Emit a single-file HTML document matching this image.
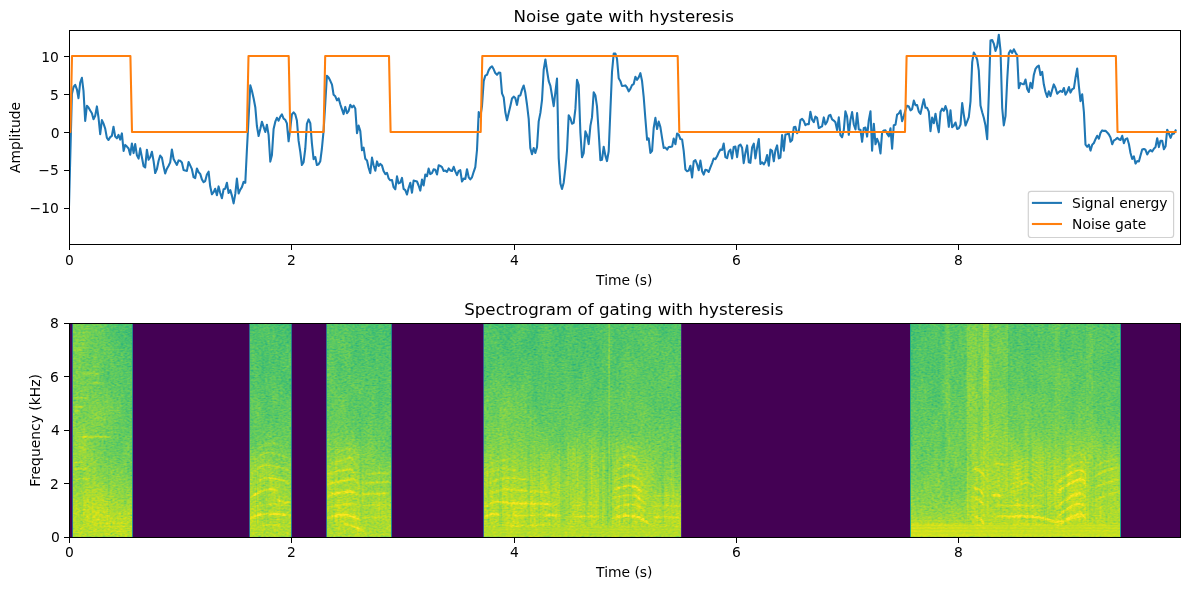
<!DOCTYPE html>
<html lang="en"><head><meta charset="utf-8"><title>Noise gate with hysteresis</title>
<style>html,body{margin:0;padding:0;background:#fff}body{width:1189px;height:590px;overflow:hidden}svg{display:block}</style>
</head><body>
<svg width="1189" height="590" viewBox="0 0 1189 590" font-family='"DejaVu Sans","Liberation Sans",sans-serif' fill="#000">
<defs>
<clipPath id="c1"><rect x="69.5" y="30.5" width="1111.0" height="214.0"/></clipPath>
<clipPath id="c2"><rect x="69.5" y="323.5" width="1111.0" height="214.0"/></clipPath>
<linearGradient id="g1" gradientUnits="userSpaceOnUse" x1="0" y1="323.5" x2="0" y2="537.5"><stop offset="0.000" stop-color="#868686"/><stop offset="0.250" stop-color="#8e8e8e"/><stop offset="0.386" stop-color="#959595"/><stop offset="0.577" stop-color="#9b9b9b"/><stop offset="0.685" stop-color="#a2a2a2"/><stop offset="0.801" stop-color="#acacac"/><stop offset="0.876" stop-color="#b9b9b9"/><stop offset="0.914" stop-color="#c3c3c3"/><stop offset="0.937" stop-color="#cacaca"/><stop offset="0.993" stop-color="#cacaca"/><stop offset="1.000" stop-color="#c3c3c3"/></linearGradient>
<linearGradient id="g2" gradientUnits="userSpaceOnUse" x1="72" y1="0" x2="128" y2="0"><stop offset="0.000" stop-color="#c3c3c3" stop-opacity="0.60"/><stop offset="0.286" stop-color="#c3c3c3" stop-opacity="0.45"/><stop offset="0.643" stop-color="#c3c3c3" stop-opacity="0.22"/><stop offset="1.000" stop-color="#c3c3c3" stop-opacity="0.00"/></linearGradient>
<radialGradient id="g3" gradientUnits="userSpaceOnUse" cx="0" cy="0" r="1" gradientTransform="translate(84 515) scale(50 34)"><stop offset="0" stop-color="#eaeaea" stop-opacity="0.55"/><stop offset="0.5" stop-color="#eaeaea" stop-opacity="0.30"/><stop offset="1" stop-color="#eaeaea" stop-opacity="0"/></radialGradient>
<radialGradient id="g4" gradientUnits="userSpaceOnUse" cx="0" cy="0" r="1" gradientTransform="translate(100 520) scale(60 22)"><stop offset="0" stop-color="#dddddd" stop-opacity="0.35"/><stop offset="0.5" stop-color="#dddddd" stop-opacity="0.19"/><stop offset="1" stop-color="#dddddd" stop-opacity="0"/></radialGradient>
<linearGradient id="g5" gradientUnits="userSpaceOnUse" x1="78.0" y1="0" x2="112.0" y2="0"><stop offset="0" stop-color="#fff" stop-opacity="0.11"/><stop offset="0.18" stop-color="#fff" stop-opacity="0.45"/><stop offset="0.82" stop-color="#fff" stop-opacity="0.45"/><stop offset="1" stop-color="#fff" stop-opacity="0.11"/></linearGradient>
<linearGradient id="g6" gradientUnits="userSpaceOnUse" x1="73.0" y1="0" x2="88.0" y2="0"><stop offset="0" stop-color="#fff" stop-opacity="0.10"/><stop offset="0.18" stop-color="#fff" stop-opacity="0.39"/><stop offset="0.82" stop-color="#fff" stop-opacity="0.39"/><stop offset="1" stop-color="#fff" stop-opacity="0.10"/></linearGradient>
<linearGradient id="g7" gradientUnits="userSpaceOnUse" x1="74.0" y1="0" x2="92.0" y2="0"><stop offset="0" stop-color="#fff" stop-opacity="0.09"/><stop offset="0.18" stop-color="#fff" stop-opacity="0.36"/><stop offset="0.82" stop-color="#fff" stop-opacity="0.36"/><stop offset="1" stop-color="#fff" stop-opacity="0.09"/></linearGradient>
<linearGradient id="g8" gradientUnits="userSpaceOnUse" x1="73.0" y1="0" x2="84.0" y2="0"><stop offset="0" stop-color="#fff" stop-opacity="0.06"/><stop offset="0.18" stop-color="#fff" stop-opacity="0.25"/><stop offset="0.82" stop-color="#fff" stop-opacity="0.25"/><stop offset="1" stop-color="#fff" stop-opacity="0.06"/></linearGradient>
<linearGradient id="g9" gradientUnits="userSpaceOnUse" x1="73.0" y1="0" x2="86.0" y2="0"><stop offset="0" stop-color="#fff" stop-opacity="0.04"/><stop offset="0.18" stop-color="#fff" stop-opacity="0.18"/><stop offset="0.82" stop-color="#fff" stop-opacity="0.18"/><stop offset="1" stop-color="#fff" stop-opacity="0.04"/></linearGradient>
<linearGradient id="g10" gradientUnits="userSpaceOnUse" x1="73.0" y1="0" x2="84.0" y2="0"><stop offset="0" stop-color="#fff" stop-opacity="0.12"/><stop offset="0.18" stop-color="#fff" stop-opacity="0.48"/><stop offset="0.82" stop-color="#fff" stop-opacity="0.48"/><stop offset="1" stop-color="#fff" stop-opacity="0.12"/></linearGradient>
<linearGradient id="g11" gradientUnits="userSpaceOnUse" x1="74.0" y1="0" x2="80.0" y2="0"><stop offset="0" stop-color="#fff" stop-opacity="0.09"/><stop offset="0.18" stop-color="#fff" stop-opacity="0.36"/><stop offset="0.82" stop-color="#fff" stop-opacity="0.36"/><stop offset="1" stop-color="#fff" stop-opacity="0.09"/></linearGradient>
<linearGradient id="g12" gradientUnits="userSpaceOnUse" x1="82.0" y1="0" x2="100.0" y2="0"><stop offset="0" stop-color="#fff" stop-opacity="0.07"/><stop offset="0.18" stop-color="#fff" stop-opacity="0.30"/><stop offset="0.82" stop-color="#fff" stop-opacity="0.30"/><stop offset="1" stop-color="#fff" stop-opacity="0.07"/></linearGradient>
<linearGradient id="g13" gradientUnits="userSpaceOnUse" x1="90.0" y1="0" x2="104.0" y2="0"><stop offset="0" stop-color="#fff" stop-opacity="0.07"/><stop offset="0.18" stop-color="#fff" stop-opacity="0.27"/><stop offset="0.82" stop-color="#fff" stop-opacity="0.27"/><stop offset="1" stop-color="#fff" stop-opacity="0.07"/></linearGradient>
<linearGradient id="g14" gradientUnits="userSpaceOnUse" x1="73.0" y1="0" x2="88.0" y2="0"><stop offset="0" stop-color="#fff" stop-opacity="0.06"/><stop offset="0.18" stop-color="#fff" stop-opacity="0.24"/><stop offset="0.82" stop-color="#fff" stop-opacity="0.24"/><stop offset="1" stop-color="#fff" stop-opacity="0.06"/></linearGradient>
<linearGradient id="g15" gradientUnits="userSpaceOnUse" x1="74.0" y1="0" x2="82.0" y2="0"><stop offset="0" stop-color="#fff" stop-opacity="0.06"/><stop offset="0.18" stop-color="#fff" stop-opacity="0.24"/><stop offset="0.82" stop-color="#fff" stop-opacity="0.24"/><stop offset="1" stop-color="#fff" stop-opacity="0.06"/></linearGradient>
<linearGradient id="g16" gradientUnits="userSpaceOnUse" x1="0" y1="440" x2="0" y2="537.5"><stop offset="0.000" stop-color="#cccccc" stop-opacity="0.00"/><stop offset="0.308" stop-color="#cccccc" stop-opacity="0.22"/><stop offset="0.615" stop-color="#d4d4d4" stop-opacity="0.40"/><stop offset="1.000" stop-color="#d4d4d4" stop-opacity="0.45"/></linearGradient>
<linearGradient id="g17" gradientUnits="userSpaceOnUse" x1="260.5" y1="0" x2="282.0" y2="0"><stop offset="0" stop-color="#fff" stop-opacity="0.11"/><stop offset="0.18" stop-color="#fff" stop-opacity="0.45"/><stop offset="0.82" stop-color="#fff" stop-opacity="0.45"/><stop offset="1" stop-color="#fff" stop-opacity="0.11"/></linearGradient>
<linearGradient id="g18" gradientUnits="userSpaceOnUse" x1="249.7" y1="0" x2="290.7" y2="0"><stop offset="0" stop-color="#fff" stop-opacity="0.20"/><stop offset="0.18" stop-color="#fff" stop-opacity="0.80"/><stop offset="0.82" stop-color="#fff" stop-opacity="0.80"/><stop offset="1" stop-color="#fff" stop-opacity="0.20"/></linearGradient>
<linearGradient id="g19" gradientUnits="userSpaceOnUse" x1="250.3" y1="0" x2="278.2" y2="0"><stop offset="0" stop-color="#fff" stop-opacity="0.16"/><stop offset="0.18" stop-color="#fff" stop-opacity="0.65"/><stop offset="0.82" stop-color="#fff" stop-opacity="0.65"/><stop offset="1" stop-color="#fff" stop-opacity="0.16"/></linearGradient>
<linearGradient id="g20" gradientUnits="userSpaceOnUse" x1="276.4" y1="0" x2="290.7" y2="0"><stop offset="0" stop-color="#fff" stop-opacity="0.15"/><stop offset="0.18" stop-color="#fff" stop-opacity="0.60"/><stop offset="0.82" stop-color="#fff" stop-opacity="0.60"/><stop offset="1" stop-color="#fff" stop-opacity="0.15"/></linearGradient>
<linearGradient id="g21" gradientUnits="userSpaceOnUse" x1="255.9" y1="0" x2="290.7" y2="0"><stop offset="0" stop-color="#fff" stop-opacity="0.11"/><stop offset="0.18" stop-color="#fff" stop-opacity="0.46"/><stop offset="0.82" stop-color="#fff" stop-opacity="0.46"/><stop offset="1" stop-color="#fff" stop-opacity="0.11"/></linearGradient>
<linearGradient id="g22" gradientUnits="userSpaceOnUse" x1="252.1" y1="0" x2="290.0" y2="0"><stop offset="0" stop-color="#fff" stop-opacity="0.09"/><stop offset="0.18" stop-color="#fff" stop-opacity="0.35"/><stop offset="0.82" stop-color="#fff" stop-opacity="0.35"/><stop offset="1" stop-color="#fff" stop-opacity="0.09"/></linearGradient>
<linearGradient id="g23" gradientUnits="userSpaceOnUse" x1="254.0" y1="0" x2="289.6" y2="0"><stop offset="0" stop-color="#fff" stop-opacity="0.06"/><stop offset="0.18" stop-color="#fff" stop-opacity="0.23"/><stop offset="0.82" stop-color="#fff" stop-opacity="0.23"/><stop offset="1" stop-color="#fff" stop-opacity="0.06"/></linearGradient>
<linearGradient id="g24" gradientUnits="userSpaceOnUse" x1="250.8" y1="0" x2="290.4" y2="0"><stop offset="0" stop-color="#fff" stop-opacity="0.07"/><stop offset="0.18" stop-color="#fff" stop-opacity="0.30"/><stop offset="0.82" stop-color="#fff" stop-opacity="0.30"/><stop offset="1" stop-color="#fff" stop-opacity="0.07"/></linearGradient>
<linearGradient id="g25" gradientUnits="userSpaceOnUse" x1="257.7" y1="0" x2="280.1" y2="0"><stop offset="0" stop-color="#fff" stop-opacity="0.05"/><stop offset="0.18" stop-color="#fff" stop-opacity="0.21"/><stop offset="0.82" stop-color="#fff" stop-opacity="0.21"/><stop offset="1" stop-color="#fff" stop-opacity="0.05"/></linearGradient>
<linearGradient id="g26" gradientUnits="userSpaceOnUse" x1="0" y1="438" x2="0" y2="537.5"><stop offset="0.000" stop-color="#cccccc" stop-opacity="0.00"/><stop offset="0.302" stop-color="#cccccc" stop-opacity="0.20"/><stop offset="0.623" stop-color="#d4d4d4" stop-opacity="0.40"/><stop offset="1.000" stop-color="#d4d4d4" stop-opacity="0.45"/></linearGradient>
<linearGradient id="g27" gradientUnits="userSpaceOnUse" x1="326" y1="0" x2="365" y2="0"><stop offset="0.000" stop-color="#b2b2b2" stop-opacity="0.22"/><stop offset="0.615" stop-color="#b2b2b2" stop-opacity="0.12"/><stop offset="1.000" stop-color="#b2b2b2" stop-opacity="0.00"/></linearGradient>
<linearGradient id="g28" gradientUnits="userSpaceOnUse" x1="326.8" y1="0" x2="360.3" y2="0"><stop offset="0" stop-color="#fff" stop-opacity="0.20"/><stop offset="0.18" stop-color="#fff" stop-opacity="0.80"/><stop offset="0.82" stop-color="#fff" stop-opacity="0.80"/><stop offset="1" stop-color="#fff" stop-opacity="0.20"/></linearGradient>
<linearGradient id="g29" gradientUnits="userSpaceOnUse" x1="360.3" y1="0" x2="390.2" y2="0"><stop offset="0" stop-color="#fff" stop-opacity="0.07"/><stop offset="0.18" stop-color="#fff" stop-opacity="0.30"/><stop offset="0.82" stop-color="#fff" stop-opacity="0.30"/><stop offset="1" stop-color="#fff" stop-opacity="0.07"/></linearGradient>
<linearGradient id="g30" gradientUnits="userSpaceOnUse" x1="326.8" y1="0" x2="356.6" y2="0"><stop offset="0" stop-color="#fff" stop-opacity="0.10"/><stop offset="0.18" stop-color="#fff" stop-opacity="0.40"/><stop offset="0.82" stop-color="#fff" stop-opacity="0.40"/><stop offset="1" stop-color="#fff" stop-opacity="0.10"/></linearGradient>
<linearGradient id="g31" gradientUnits="userSpaceOnUse" x1="326.8" y1="0" x2="357.2" y2="0"><stop offset="0" stop-color="#fff" stop-opacity="0.20"/><stop offset="0.18" stop-color="#fff" stop-opacity="0.80"/><stop offset="0.82" stop-color="#fff" stop-opacity="0.80"/><stop offset="1" stop-color="#fff" stop-opacity="0.20"/></linearGradient>
<linearGradient id="g32" gradientUnits="userSpaceOnUse" x1="360.3" y1="0" x2="390.2" y2="0"><stop offset="0" stop-color="#fff" stop-opacity="0.14"/><stop offset="0.18" stop-color="#fff" stop-opacity="0.55"/><stop offset="0.82" stop-color="#fff" stop-opacity="0.55"/><stop offset="1" stop-color="#fff" stop-opacity="0.14"/></linearGradient>
<linearGradient id="g33" gradientUnits="userSpaceOnUse" x1="326.8" y1="0" x2="359.4" y2="0"><stop offset="0" stop-color="#fff" stop-opacity="0.15"/><stop offset="0.18" stop-color="#fff" stop-opacity="0.61"/><stop offset="0.82" stop-color="#fff" stop-opacity="0.61"/><stop offset="1" stop-color="#fff" stop-opacity="0.15"/></linearGradient>
<linearGradient id="g34" gradientUnits="userSpaceOnUse" x1="326.8" y1="0" x2="357.9" y2="0"><stop offset="0" stop-color="#fff" stop-opacity="0.11"/><stop offset="0.18" stop-color="#fff" stop-opacity="0.46"/><stop offset="0.82" stop-color="#fff" stop-opacity="0.46"/><stop offset="1" stop-color="#fff" stop-opacity="0.11"/></linearGradient>
<linearGradient id="g35" gradientUnits="userSpaceOnUse" x1="362.2" y1="0" x2="390.2" y2="0"><stop offset="0" stop-color="#fff" stop-opacity="0.12"/><stop offset="0.18" stop-color="#fff" stop-opacity="0.47"/><stop offset="0.82" stop-color="#fff" stop-opacity="0.47"/><stop offset="1" stop-color="#fff" stop-opacity="0.12"/></linearGradient>
<linearGradient id="g36" gradientUnits="userSpaceOnUse" x1="329.2" y1="0" x2="357.0" y2="0"><stop offset="0" stop-color="#fff" stop-opacity="0.08"/><stop offset="0.18" stop-color="#fff" stop-opacity="0.32"/><stop offset="0.82" stop-color="#fff" stop-opacity="0.32"/><stop offset="1" stop-color="#fff" stop-opacity="0.08"/></linearGradient>
<linearGradient id="g37" gradientUnits="userSpaceOnUse" x1="365.9" y1="0" x2="390.2" y2="0"><stop offset="0" stop-color="#fff" stop-opacity="0.08"/><stop offset="0.18" stop-color="#fff" stop-opacity="0.33"/><stop offset="0.82" stop-color="#fff" stop-opacity="0.33"/><stop offset="1" stop-color="#fff" stop-opacity="0.08"/></linearGradient>
<linearGradient id="g38" gradientUnits="userSpaceOnUse" x1="361.3" y1="0" x2="390.2" y2="0"><stop offset="0" stop-color="#fff" stop-opacity="0.07"/><stop offset="0.18" stop-color="#fff" stop-opacity="0.30"/><stop offset="0.82" stop-color="#fff" stop-opacity="0.30"/><stop offset="1" stop-color="#fff" stop-opacity="0.07"/></linearGradient>
<linearGradient id="g39" gradientUnits="userSpaceOnUse" x1="332.9" y1="0" x2="356.0" y2="0"><stop offset="0" stop-color="#fff" stop-opacity="0.05"/><stop offset="0.18" stop-color="#fff" stop-opacity="0.18"/><stop offset="0.82" stop-color="#fff" stop-opacity="0.18"/><stop offset="1" stop-color="#fff" stop-opacity="0.05"/></linearGradient>
<linearGradient id="g40" gradientUnits="userSpaceOnUse" x1="343.5" y1="0" x2="364.1" y2="0"><stop offset="0" stop-color="#fff" stop-opacity="0.14"/><stop offset="0.18" stop-color="#fff" stop-opacity="0.55"/><stop offset="0.82" stop-color="#fff" stop-opacity="0.55"/><stop offset="1" stop-color="#fff" stop-opacity="0.14"/></linearGradient>
<linearGradient id="g41" gradientUnits="userSpaceOnUse" x1="0" y1="440" x2="0" y2="537.5"><stop offset="0.000" stop-color="#cccccc" stop-opacity="0.00"/><stop offset="0.308" stop-color="#cccccc" stop-opacity="0.20"/><stop offset="0.615" stop-color="#d4d4d4" stop-opacity="0.38"/><stop offset="1.000" stop-color="#d4d4d4" stop-opacity="0.42"/></linearGradient>
<radialGradient id="g42" gradientUnits="userSpaceOnUse" cx="0" cy="0" r="1" gradientTransform="translate(506 425) scale(34 70)"><stop offset="0" stop-color="#c3c3c3" stop-opacity="0.42"/><stop offset="0.5" stop-color="#c3c3c3" stop-opacity="0.23"/><stop offset="1" stop-color="#c3c3c3" stop-opacity="0"/></radialGradient>
<radialGradient id="g43" gradientUnits="userSpaceOnUse" cx="0" cy="0" r="1" gradientTransform="translate(500 500) scale(30 40)"><stop offset="0" stop-color="#e1e1e1" stop-opacity="0.30"/><stop offset="0.5" stop-color="#e1e1e1" stop-opacity="0.17"/><stop offset="1" stop-color="#e1e1e1" stop-opacity="0"/></radialGradient>
<linearGradient id="g44" gradientUnits="userSpaceOnUse" x1="0" y1="524.5" x2="0" y2="537.5"><stop offset="0.000" stop-color="#e1e1e1" stop-opacity="0.00"/><stop offset="0.192" stop-color="#e1e1e1" stop-opacity="0.60"/><stop offset="0.908" stop-color="#e1e1e1" stop-opacity="0.60"/><stop offset="1.000" stop-color="#d4d4d4" stop-opacity="0.40"/></linearGradient>
<linearGradient id="g45" gradientUnits="userSpaceOnUse" x1="0" y1="430" x2="0" y2="531"><stop offset="0.000" stop-color="#7f7f7f" stop-opacity="0.00"/><stop offset="0.396" stop-color="#7f7f7f" stop-opacity="0.35"/><stop offset="0.891" stop-color="#7f7f7f" stop-opacity="0.35"/><stop offset="1.000" stop-color="#7f7f7f" stop-opacity="0.00"/></linearGradient>
<linearGradient id="g46" gradientUnits="userSpaceOnUse" x1="0" y1="430" x2="0" y2="531"><stop offset="0.000" stop-color="#7f7f7f" stop-opacity="0.00"/><stop offset="0.396" stop-color="#7f7f7f" stop-opacity="0.25"/><stop offset="0.891" stop-color="#7f7f7f" stop-opacity="0.25"/><stop offset="1.000" stop-color="#7f7f7f" stop-opacity="0.00"/></linearGradient>
<linearGradient id="g47" gradientUnits="userSpaceOnUse" x1="0" y1="430" x2="0" y2="531"><stop offset="0.000" stop-color="#7f7f7f" stop-opacity="0.00"/><stop offset="0.396" stop-color="#7f7f7f" stop-opacity="0.35"/><stop offset="0.891" stop-color="#7f7f7f" stop-opacity="0.35"/><stop offset="1.000" stop-color="#7f7f7f" stop-opacity="0.00"/></linearGradient>
<linearGradient id="g48" gradientUnits="userSpaceOnUse" x1="0" y1="430" x2="0" y2="531"><stop offset="0.000" stop-color="#7f7f7f" stop-opacity="0.00"/><stop offset="0.396" stop-color="#7f7f7f" stop-opacity="0.15"/><stop offset="0.891" stop-color="#7f7f7f" stop-opacity="0.15"/><stop offset="1.000" stop-color="#7f7f7f" stop-opacity="0.00"/></linearGradient>
<linearGradient id="g49" gradientUnits="userSpaceOnUse" x1="609" y1="0" x2="681" y2="0"><stop offset="0.000" stop-color="#a6a6a6" stop-opacity="0.28"/><stop offset="1.000" stop-color="#a6a6a6" stop-opacity="0.18"/></linearGradient>
<radialGradient id="g50" gradientUnits="userSpaceOnUse" cx="0" cy="0" r="1" gradientTransform="translate(632 490) scale(26 50)"><stop offset="0" stop-color="#e1e1e1" stop-opacity="0.35"/><stop offset="0.5" stop-color="#e1e1e1" stop-opacity="0.19"/><stop offset="1" stop-color="#e1e1e1" stop-opacity="0"/></radialGradient>
<linearGradient id="g51" gradientUnits="userSpaceOnUse" x1="484.0" y1="0" x2="503.0" y2="0"><stop offset="0" stop-color="#fff" stop-opacity="0.20"/><stop offset="0.18" stop-color="#fff" stop-opacity="0.80"/><stop offset="0.82" stop-color="#fff" stop-opacity="0.80"/><stop offset="1" stop-color="#fff" stop-opacity="0.20"/></linearGradient>
<linearGradient id="g52" gradientUnits="userSpaceOnUse" x1="503.0" y1="0" x2="544.0" y2="0"><stop offset="0" stop-color="#fff" stop-opacity="0.07"/><stop offset="0.18" stop-color="#fff" stop-opacity="0.30"/><stop offset="0.82" stop-color="#fff" stop-opacity="0.30"/><stop offset="1" stop-color="#fff" stop-opacity="0.07"/></linearGradient>
<linearGradient id="g53" gradientUnits="userSpaceOnUse" x1="544.0" y1="0" x2="561.2" y2="0"><stop offset="0" stop-color="#fff" stop-opacity="0.19"/><stop offset="0.18" stop-color="#fff" stop-opacity="0.75"/><stop offset="0.82" stop-color="#fff" stop-opacity="0.75"/><stop offset="1" stop-color="#fff" stop-opacity="0.19"/></linearGradient>
<linearGradient id="g54" gradientUnits="userSpaceOnUse" x1="484.0" y1="0" x2="559.0" y2="0"><stop offset="0" stop-color="#fff" stop-opacity="0.17"/><stop offset="0.18" stop-color="#fff" stop-opacity="0.70"/><stop offset="0.82" stop-color="#fff" stop-opacity="0.70"/><stop offset="1" stop-color="#fff" stop-opacity="0.17"/></linearGradient>
<linearGradient id="g55" gradientUnits="userSpaceOnUse" x1="484.0" y1="0" x2="549.6" y2="0"><stop offset="0" stop-color="#fff" stop-opacity="0.11"/><stop offset="0.18" stop-color="#fff" stop-opacity="0.45"/><stop offset="0.82" stop-color="#fff" stop-opacity="0.45"/><stop offset="1" stop-color="#fff" stop-opacity="0.11"/></linearGradient>
<linearGradient id="g56" gradientUnits="userSpaceOnUse" x1="485.8" y1="0" x2="531.0" y2="0"><stop offset="0" stop-color="#fff" stop-opacity="0.09"/><stop offset="0.18" stop-color="#fff" stop-opacity="0.37"/><stop offset="0.82" stop-color="#fff" stop-opacity="0.37"/><stop offset="1" stop-color="#fff" stop-opacity="0.09"/></linearGradient>
<linearGradient id="g57" gradientUnits="userSpaceOnUse" x1="485.8" y1="0" x2="514.2" y2="0"><stop offset="0" stop-color="#fff" stop-opacity="0.07"/><stop offset="0.18" stop-color="#fff" stop-opacity="0.28"/><stop offset="0.82" stop-color="#fff" stop-opacity="0.28"/><stop offset="1" stop-color="#fff" stop-opacity="0.07"/></linearGradient>
<linearGradient id="g58" gradientUnits="userSpaceOnUse" x1="487.7" y1="0" x2="512.3" y2="0"><stop offset="0" stop-color="#fff" stop-opacity="0.05"/><stop offset="0.18" stop-color="#fff" stop-opacity="0.21"/><stop offset="0.82" stop-color="#fff" stop-opacity="0.21"/><stop offset="1" stop-color="#fff" stop-opacity="0.05"/></linearGradient>
<linearGradient id="g59" gradientUnits="userSpaceOnUse" x1="504.9" y1="0" x2="559.0" y2="0"><stop offset="0" stop-color="#fff" stop-opacity="0.09"/><stop offset="0.18" stop-color="#fff" stop-opacity="0.35"/><stop offset="0.82" stop-color="#fff" stop-opacity="0.35"/><stop offset="1" stop-color="#fff" stop-opacity="0.09"/></linearGradient>
<linearGradient id="g60" gradientUnits="userSpaceOnUse" x1="571.1" y1="0" x2="601.9" y2="0"><stop offset="0" stop-color="#fff" stop-opacity="0.12"/><stop offset="0.18" stop-color="#fff" stop-opacity="0.50"/><stop offset="0.82" stop-color="#fff" stop-opacity="0.50"/><stop offset="1" stop-color="#fff" stop-opacity="0.12"/></linearGradient>
<linearGradient id="g61" gradientUnits="userSpaceOnUse" x1="572.0" y1="0" x2="600.0" y2="0"><stop offset="0" stop-color="#fff" stop-opacity="0.06"/><stop offset="0.18" stop-color="#fff" stop-opacity="0.25"/><stop offset="0.82" stop-color="#fff" stop-opacity="0.25"/><stop offset="1" stop-color="#fff" stop-opacity="0.06"/></linearGradient>
<linearGradient id="g62" gradientUnits="userSpaceOnUse" x1="612.7" y1="0" x2="650.0" y2="0"><stop offset="0" stop-color="#fff" stop-opacity="0.21"/><stop offset="0.18" stop-color="#fff" stop-opacity="0.85"/><stop offset="0.82" stop-color="#fff" stop-opacity="0.85"/><stop offset="1" stop-color="#fff" stop-opacity="0.21"/></linearGradient>
<linearGradient id="g63" gradientUnits="userSpaceOnUse" x1="613.6" y1="0" x2="647.0" y2="0"><stop offset="0" stop-color="#fff" stop-opacity="0.12"/><stop offset="0.18" stop-color="#fff" stop-opacity="0.50"/><stop offset="0.82" stop-color="#fff" stop-opacity="0.50"/><stop offset="1" stop-color="#fff" stop-opacity="0.12"/></linearGradient>
<linearGradient id="g64" gradientUnits="userSpaceOnUse" x1="613.6" y1="0" x2="646.1" y2="0"><stop offset="0" stop-color="#fff" stop-opacity="0.14"/><stop offset="0.18" stop-color="#fff" stop-opacity="0.55"/><stop offset="0.82" stop-color="#fff" stop-opacity="0.55"/><stop offset="1" stop-color="#fff" stop-opacity="0.14"/></linearGradient>
<linearGradient id="g65" gradientUnits="userSpaceOnUse" x1="613.6" y1="0" x2="643.3" y2="0"><stop offset="0" stop-color="#fff" stop-opacity="0.19"/><stop offset="0.18" stop-color="#fff" stop-opacity="0.75"/><stop offset="0.82" stop-color="#fff" stop-opacity="0.75"/><stop offset="1" stop-color="#fff" stop-opacity="0.19"/></linearGradient>
<linearGradient id="g66" gradientUnits="userSpaceOnUse" x1="614.6" y1="0" x2="643.3" y2="0"><stop offset="0" stop-color="#fff" stop-opacity="0.12"/><stop offset="0.18" stop-color="#fff" stop-opacity="0.50"/><stop offset="0.82" stop-color="#fff" stop-opacity="0.50"/><stop offset="1" stop-color="#fff" stop-opacity="0.12"/></linearGradient>
<linearGradient id="g67" gradientUnits="userSpaceOnUse" x1="615.5" y1="0" x2="641.4" y2="0"><stop offset="0" stop-color="#fff" stop-opacity="0.10"/><stop offset="0.18" stop-color="#fff" stop-opacity="0.39"/><stop offset="0.82" stop-color="#fff" stop-opacity="0.39"/><stop offset="1" stop-color="#fff" stop-opacity="0.10"/></linearGradient>
<linearGradient id="g68" gradientUnits="userSpaceOnUse" x1="616.4" y1="0" x2="639.6" y2="0"><stop offset="0" stop-color="#fff" stop-opacity="0.08"/><stop offset="0.18" stop-color="#fff" stop-opacity="0.31"/><stop offset="0.82" stop-color="#fff" stop-opacity="0.31"/><stop offset="1" stop-color="#fff" stop-opacity="0.08"/></linearGradient>
<linearGradient id="g69" gradientUnits="userSpaceOnUse" x1="618.3" y1="0" x2="635.8" y2="0"><stop offset="0" stop-color="#fff" stop-opacity="0.05"/><stop offset="0.18" stop-color="#fff" stop-opacity="0.21"/><stop offset="0.82" stop-color="#fff" stop-opacity="0.21"/><stop offset="1" stop-color="#fff" stop-opacity="0.05"/></linearGradient>
<linearGradient id="g70" gradientUnits="userSpaceOnUse" x1="652.2" y1="0" x2="680.2" y2="0"><stop offset="0" stop-color="#fff" stop-opacity="0.10"/><stop offset="0.18" stop-color="#fff" stop-opacity="0.40"/><stop offset="0.82" stop-color="#fff" stop-opacity="0.40"/><stop offset="1" stop-color="#fff" stop-opacity="0.10"/></linearGradient>
<linearGradient id="g71" gradientUnits="userSpaceOnUse" x1="652.2" y1="0" x2="680.2" y2="0"><stop offset="0" stop-color="#fff" stop-opacity="0.07"/><stop offset="0.18" stop-color="#fff" stop-opacity="0.30"/><stop offset="0.82" stop-color="#fff" stop-opacity="0.30"/><stop offset="1" stop-color="#fff" stop-opacity="0.07"/></linearGradient>
<linearGradient id="g72" gradientUnits="userSpaceOnUse" x1="652.2" y1="0" x2="680.2" y2="0"><stop offset="0" stop-color="#fff" stop-opacity="0.07"/><stop offset="0.18" stop-color="#fff" stop-opacity="0.30"/><stop offset="0.82" stop-color="#fff" stop-opacity="0.30"/><stop offset="1" stop-color="#fff" stop-opacity="0.07"/></linearGradient>
<linearGradient id="g73" gradientUnits="userSpaceOnUse" x1="0" y1="323.5" x2="0" y2="537.5"><stop offset="0.000" stop-color="#aaaaaa" stop-opacity="0.25"/><stop offset="1.000" stop-color="#aaaaaa" stop-opacity="0.25"/></linearGradient>
<linearGradient id="g74" gradientUnits="userSpaceOnUse" x1="0" y1="323.5" x2="0" y2="537.5"><stop offset="0.000" stop-color="#c3c3c3" stop-opacity="0.35"/><stop offset="1.000" stop-color="#c3c3c3" stop-opacity="0.50"/></linearGradient>
<linearGradient id="g75" gradientUnits="userSpaceOnUse" x1="0" y1="323.5" x2="0" y2="537.5"><stop offset="0.000" stop-color="#cccccc" stop-opacity="0.25"/><stop offset="1.000" stop-color="#cccccc" stop-opacity="0.35"/></linearGradient>
<linearGradient id="g76" gradientUnits="userSpaceOnUse" x1="0" y1="323.5" x2="0" y2="537.5"><stop offset="0.000" stop-color="#dddddd" stop-opacity="0.35"/><stop offset="1.000" stop-color="#dddddd" stop-opacity="0.55"/></linearGradient>
<linearGradient id="g77" gradientUnits="userSpaceOnUse" x1="0" y1="323.5" x2="0" y2="537.5"><stop offset="0.000" stop-color="#bbbbbb" stop-opacity="0.30"/><stop offset="1.000" stop-color="#bbbbbb" stop-opacity="0.40"/></linearGradient>
<linearGradient id="g78" gradientUnits="userSpaceOnUse" x1="0" y1="323.5" x2="0" y2="537.5"><stop offset="0.000" stop-color="#bbbbbb" stop-opacity="0.20"/><stop offset="1.000" stop-color="#bbbbbb" stop-opacity="0.30"/></linearGradient>
<linearGradient id="g79" gradientUnits="userSpaceOnUse" x1="0" y1="323.5" x2="0" y2="537.5"><stop offset="0.000" stop-color="#bbbbbb" stop-opacity="0.22"/><stop offset="1.000" stop-color="#bbbbbb" stop-opacity="0.30"/></linearGradient>
<linearGradient id="g80" gradientUnits="userSpaceOnUse" x1="1093" y1="0" x2="1121" y2="0"><stop offset="0.000" stop-color="#888888" stop-opacity="0.00"/><stop offset="0.250" stop-color="#888888" stop-opacity="0.30"/><stop offset="1.000" stop-color="#888888" stop-opacity="0.35"/></linearGradient>
<linearGradient id="g81" gradientUnits="userSpaceOnUse" x1="0" y1="425" x2="0" y2="537.5"><stop offset="0.000" stop-color="#d4d4d4" stop-opacity="0.00"/><stop offset="0.311" stop-color="#d4d4d4" stop-opacity="0.25"/><stop offset="0.667" stop-color="#dddddd" stop-opacity="0.42"/><stop offset="1.000" stop-color="#dddddd" stop-opacity="0.45"/></linearGradient>
<radialGradient id="g82" gradientUnits="userSpaceOnUse" cx="0" cy="0" r="1" gradientTransform="translate(1072 490) scale(30 45)"><stop offset="0" stop-color="#eaeaea" stop-opacity="0.18"/><stop offset="0.5" stop-color="#eaeaea" stop-opacity="0.10"/><stop offset="1" stop-color="#eaeaea" stop-opacity="0"/></radialGradient>
<linearGradient id="g83" gradientUnits="userSpaceOnUse" x1="0" y1="522.5" x2="0" y2="537.5"><stop offset="0.000" stop-color="#e5e5e5" stop-opacity="0.00"/><stop offset="0.167" stop-color="#e5e5e5" stop-opacity="0.80"/><stop offset="0.920" stop-color="#e5e5e5" stop-opacity="0.80"/><stop offset="1.000" stop-color="#d4d4d4" stop-opacity="0.60"/></linearGradient>
<linearGradient id="g84" gradientUnits="userSpaceOnUse" x1="973.1" y1="0" x2="984.3" y2="0"><stop offset="0" stop-color="#fff" stop-opacity="0.12"/><stop offset="0.18" stop-color="#fff" stop-opacity="0.49"/><stop offset="0.82" stop-color="#fff" stop-opacity="0.49"/><stop offset="1" stop-color="#fff" stop-opacity="0.12"/></linearGradient>
<linearGradient id="g85" gradientUnits="userSpaceOnUse" x1="973.1" y1="0" x2="984.3" y2="0"><stop offset="0" stop-color="#fff" stop-opacity="0.15"/><stop offset="0.18" stop-color="#fff" stop-opacity="0.60"/><stop offset="0.82" stop-color="#fff" stop-opacity="0.60"/><stop offset="1" stop-color="#fff" stop-opacity="0.15"/></linearGradient>
<linearGradient id="g86" gradientUnits="userSpaceOnUse" x1="973.1" y1="0" x2="984.3" y2="0"><stop offset="0" stop-color="#fff" stop-opacity="0.15"/><stop offset="0.18" stop-color="#fff" stop-opacity="0.60"/><stop offset="0.82" stop-color="#fff" stop-opacity="0.60"/><stop offset="1" stop-color="#fff" stop-opacity="0.15"/></linearGradient>
<linearGradient id="g87" gradientUnits="userSpaceOnUse" x1="973.1" y1="0" x2="984.3" y2="0"><stop offset="0" stop-color="#fff" stop-opacity="0.15"/><stop offset="0.18" stop-color="#fff" stop-opacity="0.60"/><stop offset="0.82" stop-color="#fff" stop-opacity="0.60"/><stop offset="1" stop-color="#fff" stop-opacity="0.15"/></linearGradient>
<linearGradient id="g88" gradientUnits="userSpaceOnUse" x1="973.1" y1="0" x2="984.9" y2="0"><stop offset="0" stop-color="#fff" stop-opacity="0.11"/><stop offset="0.18" stop-color="#fff" stop-opacity="0.45"/><stop offset="0.82" stop-color="#fff" stop-opacity="0.45"/><stop offset="1" stop-color="#fff" stop-opacity="0.11"/></linearGradient>
<linearGradient id="g89" gradientUnits="userSpaceOnUse" x1="992.9" y1="0" x2="1086.6" y2="0"><stop offset="0" stop-color="#fff" stop-opacity="0.21"/><stop offset="0.18" stop-color="#fff" stop-opacity="0.85"/><stop offset="0.82" stop-color="#fff" stop-opacity="0.85"/><stop offset="1" stop-color="#fff" stop-opacity="0.21"/></linearGradient>
<linearGradient id="g90" gradientUnits="userSpaceOnUse" x1="992.4" y1="0" x2="1002.2" y2="0"><stop offset="0" stop-color="#fff" stop-opacity="0.21"/><stop offset="0.18" stop-color="#fff" stop-opacity="0.85"/><stop offset="0.82" stop-color="#fff" stop-opacity="0.85"/><stop offset="1" stop-color="#fff" stop-opacity="0.21"/></linearGradient>
<linearGradient id="g91" gradientUnits="userSpaceOnUse" x1="992.4" y1="0" x2="1004.9" y2="0"><stop offset="0" stop-color="#fff" stop-opacity="0.11"/><stop offset="0.18" stop-color="#fff" stop-opacity="0.44"/><stop offset="0.82" stop-color="#fff" stop-opacity="0.44"/><stop offset="1" stop-color="#fff" stop-opacity="0.11"/></linearGradient>
<linearGradient id="g92" gradientUnits="userSpaceOnUse" x1="1004.5" y1="0" x2="1041.8" y2="0"><stop offset="0" stop-color="#fff" stop-opacity="0.12"/><stop offset="0.18" stop-color="#fff" stop-opacity="0.50"/><stop offset="0.82" stop-color="#fff" stop-opacity="0.50"/><stop offset="1" stop-color="#fff" stop-opacity="0.12"/></linearGradient>
<linearGradient id="g93" gradientUnits="userSpaceOnUse" x1="993.3" y1="0" x2="1004.5" y2="0"><stop offset="0" stop-color="#fff" stop-opacity="0.09"/><stop offset="0.18" stop-color="#fff" stop-opacity="0.35"/><stop offset="0.82" stop-color="#fff" stop-opacity="0.35"/><stop offset="1" stop-color="#fff" stop-opacity="0.09"/></linearGradient>
<linearGradient id="g94" gradientUnits="userSpaceOnUse" x1="1011.9" y1="0" x2="1049.3" y2="0"><stop offset="0" stop-color="#fff" stop-opacity="0.09"/><stop offset="0.18" stop-color="#fff" stop-opacity="0.35"/><stop offset="0.82" stop-color="#fff" stop-opacity="0.35"/><stop offset="1" stop-color="#fff" stop-opacity="0.09"/></linearGradient>
<linearGradient id="g95" gradientUnits="userSpaceOnUse" x1="1006.3" y1="0" x2="1044.6" y2="0"><stop offset="0" stop-color="#fff" stop-opacity="0.06"/><stop offset="0.18" stop-color="#fff" stop-opacity="0.25"/><stop offset="0.82" stop-color="#fff" stop-opacity="0.25"/><stop offset="1" stop-color="#fff" stop-opacity="0.06"/></linearGradient>
<linearGradient id="g96" gradientUnits="userSpaceOnUse" x1="1006.3" y1="0" x2="1044.6" y2="0"><stop offset="0" stop-color="#fff" stop-opacity="0.07"/><stop offset="0.18" stop-color="#fff" stop-opacity="0.26"/><stop offset="0.82" stop-color="#fff" stop-opacity="0.26"/><stop offset="1" stop-color="#fff" stop-opacity="0.07"/></linearGradient>
<linearGradient id="g97" gradientUnits="userSpaceOnUse" x1="1006.3" y1="0" x2="1044.6" y2="0"><stop offset="0" stop-color="#fff" stop-opacity="0.07"/><stop offset="0.18" stop-color="#fff" stop-opacity="0.28"/><stop offset="0.82" stop-color="#fff" stop-opacity="0.28"/><stop offset="1" stop-color="#fff" stop-opacity="0.07"/></linearGradient>
<linearGradient id="g98" gradientUnits="userSpaceOnUse" x1="1006.3" y1="0" x2="1044.6" y2="0"><stop offset="0" stop-color="#fff" stop-opacity="0.07"/><stop offset="0.18" stop-color="#fff" stop-opacity="0.29"/><stop offset="0.82" stop-color="#fff" stop-opacity="0.29"/><stop offset="1" stop-color="#fff" stop-opacity="0.07"/></linearGradient>
<linearGradient id="g99" gradientUnits="userSpaceOnUse" x1="1006.3" y1="0" x2="1044.6" y2="0"><stop offset="0" stop-color="#fff" stop-opacity="0.08"/><stop offset="0.18" stop-color="#fff" stop-opacity="0.31"/><stop offset="0.82" stop-color="#fff" stop-opacity="0.31"/><stop offset="1" stop-color="#fff" stop-opacity="0.08"/></linearGradient>
<linearGradient id="g100" gradientUnits="userSpaceOnUse" x1="1006.3" y1="0" x2="1044.6" y2="0"><stop offset="0" stop-color="#fff" stop-opacity="0.08"/><stop offset="0.18" stop-color="#fff" stop-opacity="0.32"/><stop offset="0.82" stop-color="#fff" stop-opacity="0.32"/><stop offset="1" stop-color="#fff" stop-opacity="0.08"/></linearGradient>
<linearGradient id="g101" gradientUnits="userSpaceOnUse" x1="1006.3" y1="0" x2="1044.6" y2="0"><stop offset="0" stop-color="#fff" stop-opacity="0.09"/><stop offset="0.18" stop-color="#fff" stop-opacity="0.34"/><stop offset="0.82" stop-color="#fff" stop-opacity="0.34"/><stop offset="1" stop-color="#fff" stop-opacity="0.09"/></linearGradient>
<linearGradient id="g102" gradientUnits="userSpaceOnUse" x1="1006.3" y1="0" x2="1044.6" y2="0"><stop offset="0" stop-color="#fff" stop-opacity="0.09"/><stop offset="0.18" stop-color="#fff" stop-opacity="0.34"/><stop offset="0.82" stop-color="#fff" stop-opacity="0.34"/><stop offset="1" stop-color="#fff" stop-opacity="0.09"/></linearGradient>
<linearGradient id="g103" gradientUnits="userSpaceOnUse" x1="1019.4" y1="0" x2="1033.4" y2="0"><stop offset="0" stop-color="#fff" stop-opacity="0.12"/><stop offset="0.18" stop-color="#fff" stop-opacity="0.48"/><stop offset="0.82" stop-color="#fff" stop-opacity="0.48"/><stop offset="1" stop-color="#fff" stop-opacity="0.12"/></linearGradient>
<linearGradient id="g104" gradientUnits="userSpaceOnUse" x1="1028.7" y1="0" x2="1044.6" y2="0"><stop offset="0" stop-color="#fff" stop-opacity="0.09"/><stop offset="0.18" stop-color="#fff" stop-opacity="0.35"/><stop offset="0.82" stop-color="#fff" stop-opacity="0.35"/><stop offset="1" stop-color="#fff" stop-opacity="0.09"/></linearGradient>
<linearGradient id="g105" gradientUnits="userSpaceOnUse" x1="1055.8" y1="0" x2="1087.7" y2="0"><stop offset="0" stop-color="#fff" stop-opacity="0.15"/><stop offset="0.18" stop-color="#fff" stop-opacity="0.61"/><stop offset="0.82" stop-color="#fff" stop-opacity="0.61"/><stop offset="1" stop-color="#fff" stop-opacity="0.15"/></linearGradient>
<linearGradient id="g106" gradientUnits="userSpaceOnUse" x1="1055.8" y1="0" x2="1087.7" y2="0"><stop offset="0" stop-color="#fff" stop-opacity="0.19"/><stop offset="0.18" stop-color="#fff" stop-opacity="0.78"/><stop offset="0.82" stop-color="#fff" stop-opacity="0.78"/><stop offset="1" stop-color="#fff" stop-opacity="0.19"/></linearGradient>
<linearGradient id="g107" gradientUnits="userSpaceOnUse" x1="1055.8" y1="0" x2="1087.7" y2="0"><stop offset="0" stop-color="#fff" stop-opacity="0.17"/><stop offset="0.18" stop-color="#fff" stop-opacity="0.70"/><stop offset="0.82" stop-color="#fff" stop-opacity="0.70"/><stop offset="1" stop-color="#fff" stop-opacity="0.17"/></linearGradient>
<linearGradient id="g108" gradientUnits="userSpaceOnUse" x1="1055.8" y1="0" x2="1087.7" y2="0"><stop offset="0" stop-color="#fff" stop-opacity="0.17"/><stop offset="0.18" stop-color="#fff" stop-opacity="0.70"/><stop offset="0.82" stop-color="#fff" stop-opacity="0.70"/><stop offset="1" stop-color="#fff" stop-opacity="0.17"/></linearGradient>
<linearGradient id="g109" gradientUnits="userSpaceOnUse" x1="1055.8" y1="0" x2="1087.7" y2="0"><stop offset="0" stop-color="#fff" stop-opacity="0.19"/><stop offset="0.18" stop-color="#fff" stop-opacity="0.75"/><stop offset="0.82" stop-color="#fff" stop-opacity="0.75"/><stop offset="1" stop-color="#fff" stop-opacity="0.19"/></linearGradient>
<linearGradient id="g110" gradientUnits="userSpaceOnUse" x1="1060.4" y1="0" x2="1086.6" y2="0"><stop offset="0" stop-color="#fff" stop-opacity="0.06"/><stop offset="0.18" stop-color="#fff" stop-opacity="0.24"/><stop offset="0.82" stop-color="#fff" stop-opacity="0.24"/><stop offset="1" stop-color="#fff" stop-opacity="0.06"/></linearGradient>
<linearGradient id="g111" gradientUnits="userSpaceOnUse" x1="1060.4" y1="0" x2="1086.6" y2="0"><stop offset="0" stop-color="#fff" stop-opacity="0.08"/><stop offset="0.18" stop-color="#fff" stop-opacity="0.31"/><stop offset="0.82" stop-color="#fff" stop-opacity="0.31"/><stop offset="1" stop-color="#fff" stop-opacity="0.08"/></linearGradient>
<linearGradient id="g112" gradientUnits="userSpaceOnUse" x1="1093.1" y1="0" x2="1119.8" y2="0"><stop offset="0" stop-color="#fff" stop-opacity="0.08"/><stop offset="0.18" stop-color="#fff" stop-opacity="0.33"/><stop offset="0.82" stop-color="#fff" stop-opacity="0.33"/><stop offset="1" stop-color="#fff" stop-opacity="0.08"/></linearGradient>
<linearGradient id="g113" gradientUnits="userSpaceOnUse" x1="1093.1" y1="0" x2="1119.8" y2="0"><stop offset="0" stop-color="#fff" stop-opacity="0.11"/><stop offset="0.18" stop-color="#fff" stop-opacity="0.43"/><stop offset="0.82" stop-color="#fff" stop-opacity="0.43"/><stop offset="1" stop-color="#fff" stop-opacity="0.11"/></linearGradient>
<linearGradient id="g114" gradientUnits="userSpaceOnUse" x1="1093.1" y1="0" x2="1119.8" y2="0"><stop offset="0" stop-color="#fff" stop-opacity="0.09"/><stop offset="0.18" stop-color="#fff" stop-opacity="0.35"/><stop offset="0.82" stop-color="#fff" stop-opacity="0.35"/><stop offset="1" stop-color="#fff" stop-opacity="0.09"/></linearGradient>
<linearGradient id="g115" gradientUnits="userSpaceOnUse" x1="1093.1" y1="0" x2="1119.8" y2="0"><stop offset="0" stop-color="#fff" stop-opacity="0.05"/><stop offset="0.18" stop-color="#fff" stop-opacity="0.21"/><stop offset="0.82" stop-color="#fff" stop-opacity="0.21"/><stop offset="1" stop-color="#fff" stop-opacity="0.05"/></linearGradient>
<linearGradient id="g116" gradientUnits="userSpaceOnUse" x1="0" y1="400" x2="0" y2="560"><stop offset="0.000" stop-color="#cccccc" stop-opacity="0.00"/><stop offset="0.188" stop-color="#cccccc" stop-opacity="0.16"/><stop offset="0.375" stop-color="#cccccc" stop-opacity="0.40"/><stop offset="1.000" stop-color="#cccccc" stop-opacity="0.40"/></linearGradient>
<linearGradient id="g117" gradientUnits="userSpaceOnUse" x1="0" y1="470" x2="0" y2="560"><stop offset="0.000" stop-color="#d4d4d4" stop-opacity="0.00"/><stop offset="0.194" stop-color="#d4d4d4" stop-opacity="0.16"/><stop offset="0.389" stop-color="#d4d4d4" stop-opacity="0.40"/><stop offset="1.000" stop-color="#d4d4d4" stop-opacity="0.40"/></linearGradient>
<linearGradient id="g118" gradientUnits="userSpaceOnUse" x1="0" y1="425" x2="0" y2="560"><stop offset="0.000" stop-color="#cccccc" stop-opacity="0.00"/><stop offset="0.148" stop-color="#cccccc" stop-opacity="0.22"/><stop offset="0.296" stop-color="#cccccc" stop-opacity="0.55"/><stop offset="1.000" stop-color="#cccccc" stop-opacity="0.55"/></linearGradient>
<linearGradient id="g119" gradientUnits="userSpaceOnUse" x1="0" y1="450" x2="0" y2="560"><stop offset="0.000" stop-color="#cccccc" stop-opacity="0.00"/><stop offset="0.182" stop-color="#cccccc" stop-opacity="0.20"/><stop offset="0.364" stop-color="#cccccc" stop-opacity="0.50"/><stop offset="1.000" stop-color="#cccccc" stop-opacity="0.50"/></linearGradient>
<linearGradient id="g120" gradientUnits="userSpaceOnUse" x1="0" y1="425" x2="0" y2="560"><stop offset="0.000" stop-color="#cccccc" stop-opacity="0.00"/><stop offset="0.148" stop-color="#cccccc" stop-opacity="0.22"/><stop offset="0.296" stop-color="#cccccc" stop-opacity="0.55"/><stop offset="1.000" stop-color="#cccccc" stop-opacity="0.55"/></linearGradient>
<linearGradient id="g121" gradientUnits="userSpaceOnUse" x1="0" y1="455" x2="0" y2="560"><stop offset="0.000" stop-color="#cccccc" stop-opacity="0.00"/><stop offset="0.190" stop-color="#cccccc" stop-opacity="0.18"/><stop offset="0.381" stop-color="#cccccc" stop-opacity="0.45"/><stop offset="1.000" stop-color="#cccccc" stop-opacity="0.45"/></linearGradient>
<linearGradient id="g122" gradientUnits="userSpaceOnUse" x1="0" y1="420" x2="0" y2="560"><stop offset="0.000" stop-color="#cccccc" stop-opacity="0.00"/><stop offset="0.179" stop-color="#cccccc" stop-opacity="0.20"/><stop offset="0.357" stop-color="#cccccc" stop-opacity="0.50"/><stop offset="1.000" stop-color="#cccccc" stop-opacity="0.50"/></linearGradient>
<linearGradient id="g123" gradientUnits="userSpaceOnUse" x1="0" y1="460" x2="0" y2="560"><stop offset="0.000" stop-color="#d4d4d4" stop-opacity="0.00"/><stop offset="0.150" stop-color="#d4d4d4" stop-opacity="0.12"/><stop offset="0.300" stop-color="#d4d4d4" stop-opacity="0.30"/><stop offset="1.000" stop-color="#d4d4d4" stop-opacity="0.30"/></linearGradient>
<linearGradient id="g124" gradientUnits="userSpaceOnUse" x1="0" y1="480" x2="0" y2="560"><stop offset="0.000" stop-color="#d4d4d4" stop-opacity="0.00"/><stop offset="0.219" stop-color="#d4d4d4" stop-opacity="0.15"/><stop offset="0.438" stop-color="#d4d4d4" stop-opacity="0.38"/><stop offset="1.000" stop-color="#d4d4d4" stop-opacity="0.38"/></linearGradient>
<linearGradient id="g125" gradientUnits="userSpaceOnUse" x1="0" y1="430" x2="0" y2="560"><stop offset="0.000" stop-color="#c3c3c3" stop-opacity="0.00"/><stop offset="0.154" stop-color="#c3c3c3" stop-opacity="0.12"/><stop offset="0.308" stop-color="#c3c3c3" stop-opacity="0.30"/><stop offset="1.000" stop-color="#c3c3c3" stop-opacity="0.30"/></linearGradient>
<linearGradient id="g126" gradientUnits="userSpaceOnUse" x1="0" y1="425" x2="0" y2="560"><stop offset="0.000" stop-color="#cccccc" stop-opacity="0.00"/><stop offset="0.167" stop-color="#cccccc" stop-opacity="0.20"/><stop offset="0.333" stop-color="#cccccc" stop-opacity="0.50"/><stop offset="1.000" stop-color="#cccccc" stop-opacity="0.50"/></linearGradient>
<linearGradient id="g127" gradientUnits="userSpaceOnUse" x1="0" y1="450" x2="0" y2="560"><stop offset="0.000" stop-color="#c3c3c3" stop-opacity="0.00"/><stop offset="0.182" stop-color="#c3c3c3" stop-opacity="0.12"/><stop offset="0.364" stop-color="#c3c3c3" stop-opacity="0.30"/><stop offset="1.000" stop-color="#c3c3c3" stop-opacity="0.30"/></linearGradient>
<linearGradient id="g128" gradientUnits="userSpaceOnUse" x1="0" y1="415" x2="0" y2="528"><stop offset="0.000" stop-color="#dddddd" stop-opacity="0.00"/><stop offset="0.177" stop-color="#dddddd" stop-opacity="0.20"/><stop offset="0.354" stop-color="#dddddd" stop-opacity="0.50"/><stop offset="1.000" stop-color="#dddddd" stop-opacity="0.50"/></linearGradient>
<linearGradient id="g129" gradientUnits="userSpaceOnUse" x1="0" y1="415" x2="0" y2="528"><stop offset="0.000" stop-color="#dddddd" stop-opacity="0.00"/><stop offset="0.177" stop-color="#dddddd" stop-opacity="0.20"/><stop offset="0.354" stop-color="#dddddd" stop-opacity="0.50"/><stop offset="1.000" stop-color="#dddddd" stop-opacity="0.50"/></linearGradient>
<linearGradient id="g130" gradientUnits="userSpaceOnUse" x1="0" y1="415" x2="0" y2="528"><stop offset="0.000" stop-color="#dddddd" stop-opacity="0.00"/><stop offset="0.177" stop-color="#dddddd" stop-opacity="0.20"/><stop offset="0.354" stop-color="#dddddd" stop-opacity="0.50"/><stop offset="1.000" stop-color="#dddddd" stop-opacity="0.50"/></linearGradient>
<linearGradient id="g131" gradientUnits="userSpaceOnUse" x1="0" y1="385" x2="0" y2="560"><stop offset="0.000" stop-color="#c8c8c8" stop-opacity="0.00"/><stop offset="0.257" stop-color="#c8c8c8" stop-opacity="0.14"/><stop offset="0.514" stop-color="#c8c8c8" stop-opacity="0.36"/><stop offset="1.000" stop-color="#c8c8c8" stop-opacity="0.36"/></linearGradient>
<linearGradient id="g132" gradientUnits="userSpaceOnUse" x1="0" y1="430" x2="0" y2="560"><stop offset="0.000" stop-color="#cccccc" stop-opacity="0.00"/><stop offset="0.154" stop-color="#cccccc" stop-opacity="0.09"/><stop offset="0.308" stop-color="#cccccc" stop-opacity="0.22"/><stop offset="1.000" stop-color="#cccccc" stop-opacity="0.22"/></linearGradient>
<linearGradient id="g133" gradientUnits="userSpaceOnUse" x1="0" y1="430" x2="0" y2="560"><stop offset="0.000" stop-color="#d4d4d4" stop-opacity="0.00"/><stop offset="0.173" stop-color="#d4d4d4" stop-opacity="0.11"/><stop offset="0.346" stop-color="#d4d4d4" stop-opacity="0.28"/><stop offset="1.000" stop-color="#d4d4d4" stop-opacity="0.28"/></linearGradient>
<linearGradient id="g134" gradientUnits="userSpaceOnUse" x1="0" y1="445" x2="0" y2="520"><stop offset="0.000" stop-color="#e1e1e1" stop-opacity="0.00"/><stop offset="0.200" stop-color="#e1e1e1" stop-opacity="0.08"/><stop offset="0.400" stop-color="#e1e1e1" stop-opacity="0.20"/><stop offset="1.000" stop-color="#e1e1e1" stop-opacity="0.20"/></linearGradient>
<linearGradient id="g135" gradientUnits="userSpaceOnUse" x1="0" y1="440" x2="0" y2="560"><stop offset="0.000" stop-color="#cccccc" stop-opacity="0.00"/><stop offset="0.167" stop-color="#cccccc" stop-opacity="0.08"/><stop offset="0.333" stop-color="#cccccc" stop-opacity="0.20"/><stop offset="1.000" stop-color="#cccccc" stop-opacity="0.20"/></linearGradient>
<linearGradient id="g136" gradientUnits="userSpaceOnUse" x1="0" y1="429" x2="0" y2="527"><stop offset="0.000" stop-color="#7f7f7f" stop-opacity="0.00"/><stop offset="0.357" stop-color="#7f7f7f"/><stop offset="0.959" stop-color="#7f7f7f"/><stop offset="1.000" stop-color="#7f7f7f" stop-opacity="0.00"/></linearGradient>
<linearGradient id="g137" gradientUnits="userSpaceOnUse" x1="0" y1="441" x2="0" y2="527"><stop offset="0.000" stop-color="#7f7f7f" stop-opacity="0.00"/><stop offset="0.407" stop-color="#7f7f7f"/><stop offset="0.953" stop-color="#7f7f7f"/><stop offset="1.000" stop-color="#7f7f7f" stop-opacity="0.00"/></linearGradient>
<linearGradient id="g138" gradientUnits="userSpaceOnUse" x1="0" y1="451" x2="0" y2="527"><stop offset="0.000" stop-color="#7f7f7f" stop-opacity="0.00"/><stop offset="0.461" stop-color="#7f7f7f"/><stop offset="0.947" stop-color="#7f7f7f"/><stop offset="1.000" stop-color="#7f7f7f" stop-opacity="0.00"/></linearGradient>
<linearGradient id="g139" gradientUnits="userSpaceOnUse" x1="0" y1="448" x2="0" y2="527"><stop offset="0.000" stop-color="#7f7f7f" stop-opacity="0.00"/><stop offset="0.443" stop-color="#7f7f7f"/><stop offset="0.949" stop-color="#7f7f7f"/><stop offset="1.000" stop-color="#7f7f7f" stop-opacity="0.00"/></linearGradient>
<linearGradient id="g140" gradientUnits="userSpaceOnUse" x1="0" y1="443" x2="0" y2="527"><stop offset="0.000" stop-color="#f2f2f2" stop-opacity="0.00"/><stop offset="0.417" stop-color="#f2f2f2"/><stop offset="0.952" stop-color="#f2f2f2"/><stop offset="1.000" stop-color="#f2f2f2" stop-opacity="0.00"/></linearGradient>
<linearGradient id="g141" gradientUnits="userSpaceOnUse" x1="0" y1="436" x2="0" y2="527"><stop offset="0.000" stop-color="#7f7f7f" stop-opacity="0.00"/><stop offset="0.385" stop-color="#7f7f7f"/><stop offset="0.956" stop-color="#7f7f7f"/><stop offset="1.000" stop-color="#7f7f7f" stop-opacity="0.00"/></linearGradient>
<linearGradient id="g142" gradientUnits="userSpaceOnUse" x1="0" y1="444" x2="0" y2="527"><stop offset="0.000" stop-color="#7f7f7f" stop-opacity="0.00"/><stop offset="0.422" stop-color="#7f7f7f"/><stop offset="0.952" stop-color="#7f7f7f"/><stop offset="1.000" stop-color="#7f7f7f" stop-opacity="0.00"/></linearGradient>
<linearGradient id="g143" gradientUnits="userSpaceOnUse" x1="0" y1="452" x2="0" y2="527"><stop offset="0.000" stop-color="#f2f2f2" stop-opacity="0.00"/><stop offset="0.467" stop-color="#f2f2f2"/><stop offset="0.947" stop-color="#f2f2f2"/><stop offset="1.000" stop-color="#f2f2f2" stop-opacity="0.00"/></linearGradient>
<linearGradient id="g144" gradientUnits="userSpaceOnUse" x1="0" y1="438" x2="0" y2="527"><stop offset="0.000" stop-color="#7f7f7f" stop-opacity="0.00"/><stop offset="0.393" stop-color="#7f7f7f"/><stop offset="0.955" stop-color="#7f7f7f"/><stop offset="1.000" stop-color="#7f7f7f" stop-opacity="0.00"/></linearGradient>
<linearGradient id="g145" gradientUnits="userSpaceOnUse" x1="0" y1="431" x2="0" y2="527"><stop offset="0.000" stop-color="#7f7f7f" stop-opacity="0.00"/><stop offset="0.365" stop-color="#7f7f7f"/><stop offset="0.958" stop-color="#7f7f7f"/><stop offset="1.000" stop-color="#7f7f7f" stop-opacity="0.00"/></linearGradient>
<linearGradient id="g146" gradientUnits="userSpaceOnUse" x1="0" y1="449" x2="0" y2="527"><stop offset="0.000" stop-color="#7f7f7f" stop-opacity="0.00"/><stop offset="0.449" stop-color="#7f7f7f"/><stop offset="0.949" stop-color="#7f7f7f"/><stop offset="1.000" stop-color="#7f7f7f" stop-opacity="0.00"/></linearGradient>
<linearGradient id="g147" gradientUnits="userSpaceOnUse" x1="0" y1="428" x2="0" y2="527"><stop offset="0.000" stop-color="#7f7f7f" stop-opacity="0.00"/><stop offset="0.354" stop-color="#7f7f7f"/><stop offset="0.960" stop-color="#7f7f7f"/><stop offset="1.000" stop-color="#7f7f7f" stop-opacity="0.00"/></linearGradient>
<linearGradient id="g148" gradientUnits="userSpaceOnUse" x1="0" y1="443" x2="0" y2="527"><stop offset="0.000" stop-color="#7f7f7f" stop-opacity="0.00"/><stop offset="0.417" stop-color="#7f7f7f"/><stop offset="0.952" stop-color="#7f7f7f"/><stop offset="1.000" stop-color="#7f7f7f" stop-opacity="0.00"/></linearGradient>
<linearGradient id="g149" gradientUnits="userSpaceOnUse" x1="0" y1="437" x2="0" y2="527"><stop offset="0.000" stop-color="#7f7f7f" stop-opacity="0.00"/><stop offset="0.389" stop-color="#7f7f7f"/><stop offset="0.956" stop-color="#7f7f7f"/><stop offset="1.000" stop-color="#7f7f7f" stop-opacity="0.00"/></linearGradient>
<linearGradient id="g150" gradientUnits="userSpaceOnUse" x1="0" y1="446" x2="0" y2="527"><stop offset="0.000" stop-color="#7f7f7f" stop-opacity="0.00"/><stop offset="0.432" stop-color="#7f7f7f"/><stop offset="0.951" stop-color="#7f7f7f"/><stop offset="1.000" stop-color="#7f7f7f" stop-opacity="0.00"/></linearGradient>
<linearGradient id="g151" gradientUnits="userSpaceOnUse" x1="0" y1="430" x2="0" y2="527"><stop offset="0.000" stop-color="#f2f2f2" stop-opacity="0.00"/><stop offset="0.361" stop-color="#f2f2f2"/><stop offset="0.959" stop-color="#f2f2f2"/><stop offset="1.000" stop-color="#f2f2f2" stop-opacity="0.00"/></linearGradient>
<linearGradient id="g152" gradientUnits="userSpaceOnUse" x1="0" y1="446" x2="0" y2="527"><stop offset="0.000" stop-color="#f2f2f2" stop-opacity="0.00"/><stop offset="0.432" stop-color="#f2f2f2"/><stop offset="0.951" stop-color="#f2f2f2"/><stop offset="1.000" stop-color="#f2f2f2" stop-opacity="0.00"/></linearGradient>
<linearGradient id="g153" gradientUnits="userSpaceOnUse" x1="0" y1="437" x2="0" y2="527"><stop offset="0.000" stop-color="#f2f2f2" stop-opacity="0.00"/><stop offset="0.389" stop-color="#f2f2f2"/><stop offset="0.956" stop-color="#f2f2f2"/><stop offset="1.000" stop-color="#f2f2f2" stop-opacity="0.00"/></linearGradient>
<linearGradient id="g154" gradientUnits="userSpaceOnUse" x1="0" y1="434" x2="0" y2="527"><stop offset="0.000" stop-color="#7f7f7f" stop-opacity="0.00"/><stop offset="0.376" stop-color="#7f7f7f"/><stop offset="0.957" stop-color="#7f7f7f"/><stop offset="1.000" stop-color="#7f7f7f" stop-opacity="0.00"/></linearGradient>
<linearGradient id="g155" gradientUnits="userSpaceOnUse" x1="0" y1="445" x2="0" y2="527"><stop offset="0.000" stop-color="#7f7f7f" stop-opacity="0.00"/><stop offset="0.427" stop-color="#7f7f7f"/><stop offset="0.951" stop-color="#7f7f7f"/><stop offset="1.000" stop-color="#7f7f7f" stop-opacity="0.00"/></linearGradient>
<linearGradient id="g156" gradientUnits="userSpaceOnUse" x1="0" y1="434" x2="0" y2="527"><stop offset="0.000" stop-color="#f2f2f2" stop-opacity="0.00"/><stop offset="0.376" stop-color="#f2f2f2"/><stop offset="0.957" stop-color="#f2f2f2"/><stop offset="1.000" stop-color="#f2f2f2" stop-opacity="0.00"/></linearGradient>
<linearGradient id="g157" gradientUnits="userSpaceOnUse" x1="0" y1="435" x2="0" y2="527"><stop offset="0.000" stop-color="#f2f2f2" stop-opacity="0.00"/><stop offset="0.380" stop-color="#f2f2f2"/><stop offset="0.957" stop-color="#f2f2f2"/><stop offset="1.000" stop-color="#f2f2f2" stop-opacity="0.00"/></linearGradient>
<linearGradient id="g158" gradientUnits="userSpaceOnUse" x1="0" y1="425" x2="0" y2="527"><stop offset="0.000" stop-color="#7f7f7f" stop-opacity="0.00"/><stop offset="0.343" stop-color="#7f7f7f"/><stop offset="0.961" stop-color="#7f7f7f"/><stop offset="1.000" stop-color="#7f7f7f" stop-opacity="0.00"/></linearGradient>
<linearGradient id="g159" gradientUnits="userSpaceOnUse" x1="0" y1="431" x2="0" y2="527"><stop offset="0.000" stop-color="#f2f2f2" stop-opacity="0.00"/><stop offset="0.365" stop-color="#f2f2f2"/><stop offset="0.958" stop-color="#f2f2f2"/><stop offset="1.000" stop-color="#f2f2f2" stop-opacity="0.00"/></linearGradient>
<linearGradient id="g160" gradientUnits="userSpaceOnUse" x1="0" y1="445" x2="0" y2="527"><stop offset="0.000" stop-color="#f2f2f2" stop-opacity="0.00"/><stop offset="0.427" stop-color="#f2f2f2"/><stop offset="0.951" stop-color="#f2f2f2"/><stop offset="1.000" stop-color="#f2f2f2" stop-opacity="0.00"/></linearGradient>
<linearGradient id="g161" gradientUnits="userSpaceOnUse" x1="0" y1="428" x2="0" y2="527"><stop offset="0.000" stop-color="#f2f2f2" stop-opacity="0.00"/><stop offset="0.354" stop-color="#f2f2f2"/><stop offset="0.960" stop-color="#f2f2f2"/><stop offset="1.000" stop-color="#f2f2f2" stop-opacity="0.00"/></linearGradient>
<linearGradient id="g162" gradientUnits="userSpaceOnUse" x1="0" y1="436" x2="0" y2="527"><stop offset="0.000" stop-color="#f2f2f2" stop-opacity="0.00"/><stop offset="0.385" stop-color="#f2f2f2"/><stop offset="0.956" stop-color="#f2f2f2"/><stop offset="1.000" stop-color="#f2f2f2" stop-opacity="0.00"/></linearGradient>
<linearGradient id="g163" gradientUnits="userSpaceOnUse" x1="0" y1="440" x2="0" y2="527"><stop offset="0.000" stop-color="#f2f2f2" stop-opacity="0.00"/><stop offset="0.402" stop-color="#f2f2f2"/><stop offset="0.954" stop-color="#f2f2f2"/><stop offset="1.000" stop-color="#f2f2f2" stop-opacity="0.00"/></linearGradient>
<linearGradient id="g164" gradientUnits="userSpaceOnUse" x1="0" y1="425" x2="0" y2="527"><stop offset="0.000" stop-color="#f2f2f2" stop-opacity="0.00"/><stop offset="0.343" stop-color="#f2f2f2"/><stop offset="0.961" stop-color="#f2f2f2"/><stop offset="1.000" stop-color="#f2f2f2" stop-opacity="0.00"/></linearGradient>
<linearGradient id="g165" gradientUnits="userSpaceOnUse" x1="0" y1="419" x2="0" y2="527"><stop offset="0.000" stop-color="#f2f2f2" stop-opacity="0.00"/><stop offset="0.324" stop-color="#f2f2f2"/><stop offset="0.963" stop-color="#f2f2f2"/><stop offset="1.000" stop-color="#f2f2f2" stop-opacity="0.00"/></linearGradient>
<linearGradient id="g166" gradientUnits="userSpaceOnUse" x1="0" y1="426" x2="0" y2="527"><stop offset="0.000" stop-color="#f2f2f2" stop-opacity="0.00"/><stop offset="0.347" stop-color="#f2f2f2"/><stop offset="0.960" stop-color="#f2f2f2"/><stop offset="1.000" stop-color="#f2f2f2" stop-opacity="0.00"/></linearGradient>
<linearGradient id="g167" gradientUnits="userSpaceOnUse" x1="0" y1="432" x2="0" y2="527"><stop offset="0.000" stop-color="#f2f2f2" stop-opacity="0.00"/><stop offset="0.368" stop-color="#f2f2f2"/><stop offset="0.958" stop-color="#f2f2f2"/><stop offset="1.000" stop-color="#f2f2f2" stop-opacity="0.00"/></linearGradient>
<linearGradient id="g168" gradientUnits="userSpaceOnUse" x1="0" y1="418" x2="0" y2="527"><stop offset="0.000" stop-color="#f2f2f2" stop-opacity="0.00"/><stop offset="0.321" stop-color="#f2f2f2"/><stop offset="0.963" stop-color="#f2f2f2"/><stop offset="1.000" stop-color="#f2f2f2" stop-opacity="0.00"/></linearGradient>
<linearGradient id="g169" gradientUnits="userSpaceOnUse" x1="0" y1="418" x2="0" y2="527"><stop offset="0.000" stop-color="#7f7f7f" stop-opacity="0.00"/><stop offset="0.321" stop-color="#7f7f7f"/><stop offset="0.963" stop-color="#7f7f7f"/><stop offset="1.000" stop-color="#7f7f7f" stop-opacity="0.00"/></linearGradient>
<linearGradient id="g170" gradientUnits="userSpaceOnUse" x1="0" y1="423" x2="0" y2="527"><stop offset="0.000" stop-color="#f2f2f2" stop-opacity="0.00"/><stop offset="0.337" stop-color="#f2f2f2"/><stop offset="0.962" stop-color="#f2f2f2"/><stop offset="1.000" stop-color="#f2f2f2" stop-opacity="0.00"/></linearGradient>
<linearGradient id="g171" gradientUnits="userSpaceOnUse" x1="0" y1="417" x2="0" y2="527"><stop offset="0.000" stop-color="#7f7f7f" stop-opacity="0.00"/><stop offset="0.318" stop-color="#7f7f7f"/><stop offset="0.964" stop-color="#7f7f7f"/><stop offset="1.000" stop-color="#7f7f7f" stop-opacity="0.00"/></linearGradient>
<linearGradient id="g172" gradientUnits="userSpaceOnUse" x1="0" y1="424" x2="0" y2="527"><stop offset="0.000" stop-color="#7f7f7f" stop-opacity="0.00"/><stop offset="0.340" stop-color="#7f7f7f"/><stop offset="0.961" stop-color="#7f7f7f"/><stop offset="1.000" stop-color="#7f7f7f" stop-opacity="0.00"/></linearGradient>
<linearGradient id="g173" gradientUnits="userSpaceOnUse" x1="0" y1="414" x2="0" y2="527"><stop offset="0.000" stop-color="#7f7f7f" stop-opacity="0.00"/><stop offset="0.310" stop-color="#7f7f7f"/><stop offset="0.965" stop-color="#7f7f7f"/><stop offset="1.000" stop-color="#7f7f7f" stop-opacity="0.00"/></linearGradient>
<linearGradient id="g174" gradientUnits="userSpaceOnUse" x1="0" y1="426" x2="0" y2="527"><stop offset="0.000" stop-color="#7f7f7f" stop-opacity="0.00"/><stop offset="0.347" stop-color="#7f7f7f"/><stop offset="0.960" stop-color="#7f7f7f"/><stop offset="1.000" stop-color="#7f7f7f" stop-opacity="0.00"/></linearGradient>
<linearGradient id="g175" gradientUnits="userSpaceOnUse" x1="0" y1="424" x2="0" y2="527"><stop offset="0.000" stop-color="#f2f2f2" stop-opacity="0.00"/><stop offset="0.340" stop-color="#f2f2f2"/><stop offset="0.961" stop-color="#f2f2f2"/><stop offset="1.000" stop-color="#f2f2f2" stop-opacity="0.00"/></linearGradient>
<linearGradient id="g176" gradientUnits="userSpaceOnUse" x1="0" y1="440" x2="0" y2="527"><stop offset="0.000" stop-color="#7f7f7f" stop-opacity="0.00"/><stop offset="0.402" stop-color="#7f7f7f"/><stop offset="0.954" stop-color="#7f7f7f"/><stop offset="1.000" stop-color="#7f7f7f" stop-opacity="0.00"/></linearGradient>
<linearGradient id="g177" gradientUnits="userSpaceOnUse" x1="0" y1="418" x2="0" y2="527"><stop offset="0.000" stop-color="#7f7f7f" stop-opacity="0.00"/><stop offset="0.459" stop-color="#7f7f7f"/><stop offset="0.963" stop-color="#7f7f7f"/><stop offset="1.000" stop-color="#7f7f7f" stop-opacity="0.00"/></linearGradient>
<linearGradient id="g178" gradientUnits="userSpaceOnUse" x1="0" y1="414" x2="0" y2="527"><stop offset="0.000" stop-color="#7f7f7f" stop-opacity="0.00"/><stop offset="0.442" stop-color="#7f7f7f"/><stop offset="0.965" stop-color="#7f7f7f"/><stop offset="1.000" stop-color="#7f7f7f" stop-opacity="0.00"/></linearGradient>
<linearGradient id="g179" gradientUnits="userSpaceOnUse" x1="0" y1="411" x2="0" y2="527"><stop offset="0.000" stop-color="#7f7f7f" stop-opacity="0.00"/><stop offset="0.431" stop-color="#7f7f7f"/><stop offset="0.966" stop-color="#7f7f7f"/><stop offset="1.000" stop-color="#7f7f7f" stop-opacity="0.00"/></linearGradient>
<linearGradient id="g180" gradientUnits="userSpaceOnUse" x1="0" y1="413" x2="0" y2="527"><stop offset="0.000" stop-color="#f2f2f2" stop-opacity="0.00"/><stop offset="0.439" stop-color="#f2f2f2"/><stop offset="0.965" stop-color="#f2f2f2"/><stop offset="1.000" stop-color="#f2f2f2" stop-opacity="0.00"/></linearGradient>
<linearGradient id="g181" gradientUnits="userSpaceOnUse" x1="0" y1="421" x2="0" y2="527"><stop offset="0.000" stop-color="#f2f2f2" stop-opacity="0.00"/><stop offset="0.472" stop-color="#f2f2f2"/><stop offset="0.962" stop-color="#f2f2f2"/><stop offset="1.000" stop-color="#f2f2f2" stop-opacity="0.00"/></linearGradient>
<linearGradient id="g182" gradientUnits="userSpaceOnUse" x1="0" y1="414" x2="0" y2="527"><stop offset="0.000" stop-color="#f2f2f2" stop-opacity="0.00"/><stop offset="0.442" stop-color="#f2f2f2"/><stop offset="0.965" stop-color="#f2f2f2"/><stop offset="1.000" stop-color="#f2f2f2" stop-opacity="0.00"/></linearGradient>
<linearGradient id="g183" gradientUnits="userSpaceOnUse" x1="0" y1="409" x2="0" y2="527"><stop offset="0.000" stop-color="#f2f2f2" stop-opacity="0.00"/><stop offset="0.424" stop-color="#f2f2f2"/><stop offset="0.966" stop-color="#f2f2f2"/><stop offset="1.000" stop-color="#f2f2f2" stop-opacity="0.00"/></linearGradient>
<linearGradient id="g184" gradientUnits="userSpaceOnUse" x1="0" y1="425" x2="0" y2="527"><stop offset="0.000" stop-color="#7f7f7f" stop-opacity="0.00"/><stop offset="0.490" stop-color="#7f7f7f"/><stop offset="0.961" stop-color="#7f7f7f"/><stop offset="1.000" stop-color="#7f7f7f" stop-opacity="0.00"/></linearGradient>
<linearGradient id="g185" gradientUnits="userSpaceOnUse" x1="0" y1="405" x2="0" y2="527"><stop offset="0.000" stop-color="#7f7f7f" stop-opacity="0.00"/><stop offset="0.410" stop-color="#7f7f7f"/><stop offset="0.967" stop-color="#7f7f7f"/><stop offset="1.000" stop-color="#7f7f7f" stop-opacity="0.00"/></linearGradient>
<linearGradient id="g186" gradientUnits="userSpaceOnUse" x1="0" y1="417" x2="0" y2="527"><stop offset="0.000" stop-color="#f2f2f2" stop-opacity="0.00"/><stop offset="0.455" stop-color="#f2f2f2"/><stop offset="0.964" stop-color="#f2f2f2"/><stop offset="1.000" stop-color="#f2f2f2" stop-opacity="0.00"/></linearGradient>
<linearGradient id="g187" gradientUnits="userSpaceOnUse" x1="0" y1="421" x2="0" y2="527"><stop offset="0.000" stop-color="#f2f2f2" stop-opacity="0.00"/><stop offset="0.330" stop-color="#f2f2f2"/><stop offset="0.962" stop-color="#f2f2f2"/><stop offset="1.000" stop-color="#f2f2f2" stop-opacity="0.00"/></linearGradient>
<linearGradient id="g188" gradientUnits="userSpaceOnUse" x1="0" y1="427" x2="0" y2="527"><stop offset="0.000" stop-color="#7f7f7f" stop-opacity="0.00"/><stop offset="0.350" stop-color="#7f7f7f"/><stop offset="0.960" stop-color="#7f7f7f"/><stop offset="1.000" stop-color="#7f7f7f" stop-opacity="0.00"/></linearGradient>
<linearGradient id="g189" gradientUnits="userSpaceOnUse" x1="0" y1="429" x2="0" y2="527"><stop offset="0.000" stop-color="#f2f2f2" stop-opacity="0.00"/><stop offset="0.357" stop-color="#f2f2f2"/><stop offset="0.959" stop-color="#f2f2f2"/><stop offset="1.000" stop-color="#f2f2f2" stop-opacity="0.00"/></linearGradient>
<filter id="vir" filterUnits="userSpaceOnUse" x="69.5" y="323.5" width="1111.0" height="214.0" color-interpolation-filters="sRGB">
<feTurbulence type="fractalNoise" baseFrequency="0.37 0.53" numOctaves="1" seed="11"/><feColorMatrix type="matrix" values="1 0 0 0 0 1 0 0 0 0 1 0 0 0 0 0 0 0 0 1" result="t0"/>
<feTurbulence type="fractalNoise" baseFrequency="0.47 0.77" numOctaves="1" seed="4"/><feColorMatrix type="matrix" values="1 0 0 0 0 1 0 0 0 0 1 0 0 0 0 0 0 0 0 1" result="t1"/>
<feTurbulence type="fractalNoise" baseFrequency="0.29 0.61" numOctaves="1" seed="9"/><feColorMatrix type="matrix" values="1 0 0 0 0 1 0 0 0 0 1 0 0 0 0 0 0 0 0 1" result="t2"/>
<feComposite in="t0" in2="t1" operator="arithmetic" k2="0.3333" k3="0.3333" result="a1"/>
<feComposite in="a1" in2="t2" operator="arithmetic" k2="1" k3="0.3333" result="a2"/>
<feComponentTransfer in="a2"><feFuncR type="linear" slope="1.732" intercept="-0.366"/><feFuncG type="linear" slope="1.732" intercept="-0.366"/><feFuncB type="linear" slope="1.732" intercept="-0.366"/><feFuncA type="linear" slope="0" intercept="1"/></feComponentTransfer>
<feComponentTransfer result="n"><feFuncR type="gamma" exponent="0.5"/><feFuncG type="gamma" exponent="0.5"/><feFuncB type="gamma" exponent="0.5"/></feComponentTransfer>
<feTurbulence type="fractalNoise" baseFrequency="0.085 0.028" numOctaves="2" seed="5"/><feColorMatrix type="matrix" values="1 0 0 0 0 1 0 0 0 0 1 0 0 0 0 0 0 0 0 1" result="n2"/>
<feComposite in="SourceGraphic" in2="n" operator="arithmetic" k1="0" k2="1" k3="0.46" k4="-0.322" result="s1"/>
<feComposite in="s1" in2="n2" operator="arithmetic" k1="0" k2="1" k3="0.13" k4="-0.065" result="s"/>
<feComponentTransfer in="s"><feFuncR type="table" tableValues="0.164 0.156 0.149 0.142 0.135 0.129 0.123 0.120 0.120 0.122 0.130 0.143 0.162 0.186 0.214 0.246 0.281 0.320 0.361 0.404 0.449 0.497 0.546 0.596 0.647 0.699 0.752 0.804 0.856 0.906 0.955 0.993"/><feFuncG type="table" tableValues="0.471 0.490 0.508 0.526 0.545 0.563 0.582 0.600 0.618 0.633 0.651 0.669 0.687 0.705 0.722 0.739 0.755 0.771 0.786 0.800 0.814 0.826 0.838 0.849 0.858 0.867 0.875 0.882 0.889 0.895 0.901 0.906"/><feFuncB type="table" tableValues="0.558 0.558 0.557 0.556 0.554 0.551 0.547 0.543 0.536 0.530 0.522 0.511 0.499 0.485 0.470 0.452 0.433 0.411 0.388 0.363 0.335 0.306 0.276 0.243 0.210 0.176 0.143 0.115 0.097 0.098 0.118 0.144"/></feComponentTransfer>
</filter>
<filter id="bl4" x="-30%" y="-30%" width="160%" height="160%" color-interpolation-filters="sRGB"><feGaussianBlur stdDeviation="5 2"/></filter>
<filter id="bl1" x="-5%" y="-5%" width="110%" height="110%" color-interpolation-filters="sRGB"><feGaussianBlur stdDeviation="0.6 0"/></filter>
<filter id="bl" x="-5%" y="-5%" width="110%" height="110%" color-interpolation-filters="sRGB"><feGaussianBlur stdDeviation="0.45"/></filter>
<clipPath id="s0"><rect x="73.0" y="323.5" width="59.0" height="214.0"/></clipPath>
<clipPath id="s1"><rect x="250.0" y="323.5" width="41.0" height="214.0"/></clipPath>
<clipPath id="s2"><rect x="327.0" y="323.5" width="64.0" height="214.0"/></clipPath>
<clipPath id="s3"><rect x="484.0" y="323.5" width="197.0" height="214.0"/></clipPath>
<clipPath id="s4"><rect x="911.0" y="323.5" width="209.0" height="214.0"/></clipPath>
</defs>
<rect width="1189" height="590" fill="#fff"/>
<g clip-path="url(#c1)" fill="none" stroke-width="2.08" stroke-linejoin="round" stroke-linecap="square">
<polyline points="68.5,226.0 71.9,94.0 73.5,87.0 75.2,84.8 76.9,89.3 78.5,98.2 80.2,82.5 81.9,77.8 83.5,90.9 85.2,121.0 86.9,105.8 88.5,107.5 90.2,110.5 91.9,113.3 93.5,119.3 95.2,115.8 96.9,106.4 98.5,117.5 100.2,134.1 101.9,120.1 103.5,123.5 105.2,128.6 106.9,137.9 108.5,140.0 110.2,137.1 111.9,135.8 113.5,126.7 115.2,136.6 116.9,138.3 118.5,134.9 120.2,139.6 121.9,133.4 123.6,151.0 125.2,144.9 126.9,146.6 128.6,148.5 130.2,154.8 131.9,143.5 133.6,153.1 135.2,144.1 136.9,155.2 138.6,158.6 140.2,148.4 141.9,157.3 143.6,166.2 145.2,167.5 146.9,149.7 148.6,159.8 150.2,157.3 151.9,151.8 153.6,161.1 155.2,173.0 156.9,169.2 158.6,160.7 160.2,155.6 161.9,157.6 163.6,166.6 165.2,173.4 166.9,168.7 168.6,165.8 170.2,162.4 171.9,149.5 173.6,159.0 175.2,162.0 176.9,164.9 178.6,160.4 180.2,160.7 181.9,162.4 183.6,170.0 185.2,170.6 186.9,170.9 188.6,162.0 190.2,165.4 191.9,169.2 193.6,177.2 195.2,178.1 196.9,168.5 198.6,172.2 200.2,173.9 201.9,179.4 203.6,182.2 205.2,181.1 206.9,174.5 208.6,171.7 210.2,186.3 211.9,194.3 213.6,192.2 215.2,188.8 216.9,195.2 218.6,186.4 220.2,193.0 221.9,198.3 223.6,189.2 225.2,188.8 226.9,182.7 228.6,193.0 230.3,190.1 231.9,195.6 233.6,203.4 235.3,193.9 236.9,178.5 238.6,193.5 240.3,189.7 241.9,187.1 243.6,181.9 245.3,182.7 246.9,150.0 248.6,118.0 250.3,85.2 251.9,90.7 253.6,98.3 255.3,107.2 256.9,126.0 258.6,136.0 260.3,129.0 261.9,121.7 263.6,126.8 265.3,132.0 266.9,124.7 268.6,134.9 270.3,161.6 271.9,155.3 273.6,129.0 275.3,121.7 276.9,117.8 278.6,120.6 280.3,116.6 281.9,114.4 283.6,118.7 285.3,119.8 286.9,123.4 288.6,141.3 290.3,128.0 291.9,114.4 293.6,112.3 295.3,114.4 296.9,120.5 298.6,140.9 300.3,151.9 301.9,165.0 303.6,162.1 305.3,148.5 306.9,123.9 308.6,119.4 310.3,123.2 311.9,143.4 313.6,159.1 315.3,157.0 316.9,165.0 318.6,164.2 320.3,161.2 321.9,148.5 323.6,130.7 325.3,103.0 326.9,75.8 328.6,77.5 330.3,80.8 332.0,84.6 333.6,94.8 335.3,96.3 337.0,100.4 338.6,98.4 340.3,104.3 342.0,109.4 343.6,114.1 345.3,106.9 347.0,113.2 348.6,111.1 350.3,104.7 352.0,107.3 353.6,105.6 355.3,108.6 357.0,133.2 358.6,125.6 360.3,131.1 362.0,150.3 363.6,147.7 365.3,158.8 367.0,160.5 368.6,167.7 370.3,173.2 372.0,157.6 373.6,165.2 375.3,170.7 377.0,161.4 378.6,166.0 380.3,163.9 382.0,165.6 383.6,171.1 385.3,174.1 387.0,172.8 388.6,178.3 390.3,180.3 392.0,180.0 393.6,187.2 395.3,189.3 397.0,176.4 398.6,183.4 400.3,182.6 402.0,177.9 403.6,188.9 405.3,190.2 407.0,194.5 408.6,188.1 410.3,182.8 412.0,192.7 413.6,180.6 415.3,180.9 417.0,181.5 418.6,185.5 420.3,190.6 422.0,179.6 423.6,185.5 425.3,174.5 427.0,176.2 428.6,168.6 430.3,174.1 432.0,173.2 433.6,169.3 435.3,169.8 437.0,174.5 438.7,165.2 440.3,165.9 442.0,167.2 443.7,171.0 445.3,170.6 447.0,171.9 448.7,168.4 450.3,170.4 452.0,171.0 453.7,166.8 455.3,171.4 457.0,175.2 458.7,170.9 460.3,170.1 462.0,181.5 463.7,178.6 465.3,179.0 467.0,169.2 468.7,177.3 470.3,179.4 472.0,177.3 473.7,171.8 475.3,167.1 477.0,150.0 478.7,112.1 480.3,117.0 482.0,106.0 483.7,81.1 485.3,75.6 487.0,74.8 488.7,70.1 490.3,67.6 492.0,66.3 493.7,69.3 495.3,73.1 497.0,74.8 498.7,72.6 500.3,72.8 502.0,93.4 503.7,97.4 505.3,112.0 507.0,120.2 508.7,112.9 510.3,106.2 512.0,98.5 513.7,96.6 515.3,98.0 517.0,104.9 518.7,95.8 520.3,95.5 522.0,89.6 523.7,85.5 525.3,92.6 527.0,104.5 528.7,118.9 530.3,148.0 532.0,154.2 533.7,148.0 535.3,153.0 537.0,147.1 538.7,121.4 540.4,112.9 542.0,100.2 543.7,69.7 545.4,59.5 547.0,70.5 548.7,81.1 550.4,85.8 552.0,95.5 553.7,106.2 555.4,92.0 557.0,78.6 558.7,158.1 560.4,183.5 562.0,189.0 563.7,182.7 565.4,167.8 567.0,150.5 568.7,115.2 570.4,118.3 572.0,123.8 573.7,122.9 575.4,108.9 577.0,79.9 578.7,85.0 580.4,132.7 582.0,157.3 583.7,153.0 585.4,131.4 587.0,135.2 588.7,144.1 590.4,125.9 592.0,117.4 593.7,92.2 595.4,95.5 597.0,106.4 598.7,132.7 600.4,160.2 602.0,159.8 603.7,146.7 605.4,155.6 607.0,161.1 608.7,151.3 610.4,110.0 612.0,72.0 613.7,53.6 615.4,53.6 617.0,58.7 618.7,78.2 620.4,81.2 622.0,86.0 623.7,85.8 625.4,85.4 627.0,87.5 628.7,91.3 630.4,88.8 632.0,85.2 633.7,84.1 635.4,76.7 637.0,79.9 638.7,77.4 640.4,73.1 642.0,80.7 643.7,97.0 645.4,119.0 647.1,139.8 648.7,138.4 650.4,152.9 652.1,150.8 653.7,128.0 655.4,117.8 657.1,129.0 658.7,121.6 660.4,127.1 662.1,138.1 663.7,147.9 665.4,147.6 667.1,149.6 668.7,147.0 670.4,146.9 672.1,146.6 673.7,138.5 675.4,144.3 677.1,133.5 678.7,134.7 680.4,139.0 682.1,139.4 683.7,150.8 685.4,169.5 687.1,171.2 688.7,170.6 690.4,165.7 692.1,177.5 693.7,161.4 695.4,160.2 697.1,164.4 698.7,170.3 700.4,160.6 702.1,171.2 703.7,174.6 705.4,169.7 707.1,170.3 708.7,172.0 710.4,167.4 712.1,163.1 713.7,158.5 715.4,159.1 717.1,156.3 718.7,152.5 720.4,149.6 722.1,150.0 723.7,143.6 725.4,157.2 727.1,158.2 728.7,151.7 730.4,149.6 732.1,158.5 733.7,147.0 735.4,146.6 737.1,157.1 738.7,145.8 740.4,144.5 742.1,147.8 743.7,163.1 745.4,152.9 747.1,145.4 748.8,162.3 750.4,162.9 752.1,147.5 753.8,143.6 755.4,158.4 757.1,147.8 758.8,139.0 760.4,164.0 762.1,162.3 763.8,164.4 765.4,161.8 767.1,155.1 768.8,165.7 770.4,149.6 772.1,150.9 773.8,161.3 775.4,150.3 777.1,145.4 778.8,158.4 780.4,157.5 782.1,135.1 783.8,150.7 785.4,134.5 787.1,134.2 788.8,133.2 790.4,141.7 792.1,140.0 793.8,127.3 795.4,126.8 797.1,133.2 798.8,131.1 800.4,120.1 802.1,118.8 803.8,121.0 805.4,125.2 807.1,124.0 808.8,124.1 810.4,111.7 812.1,119.7 813.8,122.1 815.4,116.6 817.1,117.8 818.8,128.0 820.4,127.2 822.1,126.3 823.8,117.4 825.4,124.4 827.1,121.7 828.8,115.7 830.4,114.8 832.1,119.4 833.8,120.6 835.4,122.2 837.1,130.1 838.8,117.3 840.4,135.2 842.1,137.3 843.8,130.1 845.4,111.3 847.1,116.6 848.8,134.8 850.4,120.1 852.1,112.1 853.8,124.5 855.5,129.4 857.1,113.1 858.8,129.4 860.5,129.8 862.1,141.8 863.8,127.9 865.5,127.6 867.1,136.6 868.8,120.1 870.5,111.3 872.1,150.7 873.8,123.7 875.5,144.3 877.1,138.8 878.8,143.1 880.5,153.4 882.1,132.3 883.8,130.5 885.5,130.4 887.1,133.6 888.8,136.3 890.5,128.3 892.1,148.6 893.8,125.2 895.5,124.7 897.1,114.7 898.8,113.5 900.5,110.5 902.1,121.2 903.8,116.1 905.5,110.0 907.1,105.7 908.8,106.5 910.5,110.3 912.1,109.1 913.8,100.6 915.5,105.2 917.1,105.0 918.8,111.6 920.5,113.9 922.1,106.5 923.8,99.3 925.5,107.8 927.1,107.8 928.8,111.6 930.5,131.2 932.1,117.5 933.8,123.3 935.5,113.7 937.1,124.2 938.8,132.2 940.5,112.0 942.1,108.6 943.8,110.8 945.5,106.1 947.1,110.8 948.8,126.8 950.5,110.4 952.1,127.1 953.8,125.6 955.5,122.5 957.2,129.0 958.8,128.4 960.5,124.6 962.2,103.1 963.8,114.7 965.5,125.5 967.2,121.3 968.8,117.2 970.5,101.5 972.2,62.2 973.8,52.5 975.5,55.4 977.2,59.7 978.8,70.7 980.5,105.6 982.2,112.2 983.8,117.8 985.5,125.5 987.2,139.2 988.8,95.0 990.5,40.6 992.2,40.0 993.8,43.6 995.5,51.0 997.2,46.1 998.8,34.7 1000.5,50.3 1002.2,108.0 1003.8,125.4 1005.5,116.1 1007.2,80.0 1008.8,53.3 1010.5,50.3 1012.2,52.9 1013.8,49.3 1015.5,52.5 1017.2,55.4 1018.8,88.2 1020.5,83.1 1022.2,83.9 1023.8,84.3 1025.5,79.5 1027.2,89.0 1028.8,92.0 1030.5,82.8 1032.2,88.2 1033.8,75.0 1035.5,68.9 1037.2,66.6 1038.8,65.6 1040.5,75.0 1042.2,71.8 1043.8,84.3 1045.5,92.0 1047.2,96.9 1048.8,91.3 1050.5,96.1 1052.2,89.8 1053.8,84.4 1055.5,88.0 1057.2,93.8 1058.8,92.1 1060.5,90.9 1062.2,92.0 1063.9,88.0 1065.5,94.7 1067.2,91.8 1068.9,87.1 1070.5,92.6 1072.2,89.2 1073.9,88.4 1075.5,77.8 1077.2,68.5 1078.9,86.3 1080.5,101.1 1082.2,94.3 1083.9,112.0 1085.5,144.7 1087.2,146.8 1088.9,144.7 1090.5,150.6 1092.2,144.7 1093.9,143.0 1095.5,139.2 1097.2,135.8 1098.9,138.7 1100.5,132.8 1102.2,130.4 1103.9,130.9 1105.5,130.7 1107.2,132.4 1108.9,134.5 1110.5,137.5 1112.2,144.3 1113.9,140.4 1115.5,139.6 1117.2,137.9 1118.9,139.2 1120.5,140.0 1122.2,135.8 1123.9,143.2 1125.5,139.2 1127.2,138.3 1128.9,144.0 1130.5,153.0 1132.2,159.0 1133.9,156.4 1135.5,163.6 1137.2,161.1 1138.9,161.5 1140.5,155.6 1142.2,149.5 1143.9,149.0 1145.5,149.8 1147.2,154.5 1148.9,151.5 1150.5,150.1 1152.2,151.5 1153.9,148.8 1155.5,147.1 1157.2,138.2 1158.9,147.1 1160.5,140.8 1162.2,140.8 1163.9,149.2 1165.6,146.2 1167.2,129.7 1168.9,133.5 1170.6,137.8 1172.2,133.6 1173.9,133.6 1175.6,130.4" stroke="#1f77b4"/>
<polyline points="69.5,132.0 70.4,132.0 72.0,56.0 130.4,56.0 132.0,132.0 246.9,132.0 248.5,56.0 288.7,56.0 290.3,132.0 323.6,132.0 325.2,56.0 389.0,56.0 390.6,132.0 480.7,132.0 482.3,56.0 677.7,56.0 679.3,132.0 905.0,132.0 906.6,56.0 1115.9,56.0 1117.5,132.0 1175.5,132.0" stroke="#ff7f0e"/>
</g>
<g clip-path="url(#c2)">
<rect x="69.5" y="323.5" width="1111.0" height="214.0" fill="#440154"/>
<g clip-path="url(#s0)"><g filter="url(#vir)">
<rect x="72.0" y="322.5" width="61.0" height="216.0" fill="url(#g1)"/>
<rect x="72.0" y="323.0" width="56.0" height="215.0" fill="url(#g2)"/>
<rect x="34.0" y="481.0" width="100.0" height="68.0" fill="url(#g3)"/>
<rect x="40.0" y="498.0" width="120.0" height="44.0" fill="url(#g4)"/>
<g filter="url(#bl4)">
<rect x="50.0" y="400.0" width="50.0" height="160.0" fill="url(#g116)"/>
<rect x="50.0" y="470.0" width="110.0" height="90.0" fill="url(#g117)"/>
</g>
<rect x="72.0" y="536.3" width="61.0" height="1.7" fill="#a6a6a6" opacity="0.4"/>
<g fill="none" stroke-linecap="round" filter="url(#bl)">
<path d="M78.0 437.0C80.8 436.9 89.3 436.6 95.0 436.6C100.7 436.6 109.2 436.9 112.0 437.0" stroke="url(#g5)" stroke-width="4.0" opacity="0.2"/><path d="M78.0 437.0C80.8 436.9 89.3 436.6 95.0 436.6C100.7 436.6 109.2 436.9 112.0 437.0" stroke="url(#g5)" stroke-width="1.7"/>
<path d="M73.0 469.0C74.2 468.9 78.0 468.6 80.5 468.6C83.0 468.6 86.8 468.9 88.0 469.0" stroke="url(#g6)" stroke-width="4.0" opacity="0.2"/><path d="M73.0 469.0C74.2 468.9 78.0 468.6 80.5 468.6C83.0 468.6 86.8 468.9 88.0 469.0" stroke="url(#g6)" stroke-width="1.7"/>
<path d="M74.0 479.0C75.5 478.9 80.0 478.6 83.0 478.6C86.0 478.6 90.5 478.9 92.0 479.0" stroke="url(#g7)" stroke-width="4.0" opacity="0.2"/><path d="M74.0 479.0C75.5 478.9 80.0 478.6 83.0 478.6C86.0 478.6 90.5 478.9 92.0 479.0" stroke="url(#g7)" stroke-width="1.7"/>
<path d="M73.0 462.5C73.9 462.4 76.7 462.1 78.5 462.1C80.3 462.1 83.1 462.4 84.0 462.5" stroke="url(#g8)" stroke-width="4.0" opacity="0.2"/><path d="M73.0 462.5C73.9 462.4 76.7 462.1 78.5 462.1C80.3 462.1 83.1 462.4 84.0 462.5" stroke="url(#g8)" stroke-width="1.7"/>
<path d="M73.0 448.0C74.1 447.9 77.3 447.6 79.5 447.6C81.7 447.6 84.9 447.9 86.0 448.0" stroke="url(#g9)" stroke-width="4.0" opacity="0.2"/><path d="M73.0 448.0C74.1 447.9 77.3 447.6 79.5 447.6C81.7 447.6 84.9 447.9 86.0 448.0" stroke="url(#g9)" stroke-width="1.7"/>
<path d="M73.0 407.0C73.9 406.9 76.7 406.6 78.5 406.6C80.3 406.6 83.1 406.9 84.0 407.0" stroke="url(#g10)" stroke-width="4.0" opacity="0.2"/><path d="M73.0 407.0C73.9 406.9 76.7 406.6 78.5 406.6C80.3 406.6 83.1 406.9 84.0 407.0" stroke="url(#g10)" stroke-width="1.7"/>
<path d="M74.0 411.0C74.5 410.9 76.0 410.6 77.0 410.6C78.0 410.6 79.5 410.9 80.0 411.0" stroke="url(#g11)" stroke-width="4.0" opacity="0.2"/><path d="M74.0 411.0C74.5 410.9 76.0 410.6 77.0 410.6C78.0 410.6 79.5 410.9 80.0 411.0" stroke="url(#g11)" stroke-width="1.7"/>
<path d="M82.0 374.0C83.5 373.9 88.0 373.6 91.0 373.6C94.0 373.6 98.5 373.9 100.0 374.0" stroke="url(#g12)" stroke-width="4.0" opacity="0.2"/><path d="M82.0 374.0C83.5 373.9 88.0 373.6 91.0 373.6C94.0 373.6 98.5 373.9 100.0 374.0" stroke="url(#g12)" stroke-width="1.7"/>
<path d="M90.0 383.0C91.2 382.9 94.7 382.6 97.0 382.6C99.3 382.6 102.8 382.9 104.0 383.0" stroke="url(#g13)" stroke-width="4.0" opacity="0.2"/><path d="M90.0 383.0C91.2 382.9 94.7 382.6 97.0 382.6C99.3 382.6 102.8 382.9 104.0 383.0" stroke="url(#g13)" stroke-width="1.7"/>
<path d="M73.0 398.0C74.2 397.9 78.0 397.6 80.5 397.6C83.0 397.6 86.8 397.9 88.0 398.0" stroke="url(#g14)" stroke-width="4.0" opacity="0.2"/><path d="M73.0 398.0C74.2 397.9 78.0 397.6 80.5 397.6C83.0 397.6 86.8 397.9 88.0 398.0" stroke="url(#g14)" stroke-width="1.7"/>
<path d="M74.0 350.0C74.7 349.9 76.7 349.6 78.0 349.6C79.3 349.6 81.3 349.9 82.0 350.0" stroke="url(#g15)" stroke-width="4.0" opacity="0.2"/><path d="M74.0 350.0C74.7 349.9 76.7 349.6 78.0 349.6C79.3 349.6 81.3 349.9 82.0 350.0" stroke="url(#g15)" stroke-width="1.7"/>
</g>
<g filter="url(#bl1)">
<rect x="77.5" y="429.4" width="1.0" height="97.6" fill="url(#g136)" opacity="0.12"/>
<rect x="79.0" y="441.2" width="1.0" height="85.8" fill="url(#g137)" opacity="0.11"/>
<rect x="80.0" y="450.7" width="3.0" height="76.3" fill="url(#g138)" opacity="0.16"/>
<rect x="89.5" y="447.6" width="2.5" height="79.4" fill="url(#g139)" opacity="0.12"/>
<rect x="94.0" y="442.9" width="2.0" height="84.1" fill="url(#g140)" opacity="0.12"/>
<rect x="108.0" y="436.2" width="1.5" height="90.8" fill="url(#g141)" opacity="0.14"/>
<rect x="114.5" y="444.0" width="2.0" height="83.0" fill="url(#g142)" opacity="0.08"/>
<rect x="126.5" y="451.8" width="1.0" height="75.2" fill="url(#g143)" opacity="0.13"/>
</g>
</g></g>
<rect x="72.0" y="323.5" width="1.0" height="214.0" fill="#31678e"/>
<rect x="132.0" y="323.5" width="1.0" height="214.0" fill="#25848e"/>
<g clip-path="url(#s1)"><g filter="url(#vir)">
<rect x="249.0" y="322.5" width="43.0" height="216.0" fill="url(#g1)"/>
<rect x="249.0" y="440.0" width="43.0" height="98.0" fill="url(#g16)"/>
<g filter="url(#bl4)">
<rect x="225.0" y="425.0" width="47.0" height="135.0" fill="url(#g118)"/>
<rect x="225.0" y="450.0" width="90.0" height="110.0" fill="url(#g119)"/>
</g>
<rect x="249.0" y="536.3" width="43.0" height="1.7" fill="#a6a6a6" opacity="0.4"/>
<g fill="none" stroke-linecap="round" filter="url(#bl)">
<path d="M260.5 525.5C262.4 525.4 268.1 524.8 271.7 524.8C275.3 524.8 280.3 525.4 282.0 525.5" stroke="url(#g17)" stroke-width="4.0" opacity="0.2"/><path d="M260.5 525.5C262.4 525.4 268.1 524.8 271.7 524.8C275.3 524.8 280.3 525.4 282.0 525.5" stroke="url(#g17)" stroke-width="1.7"/>
<path d="M249.7 518.1C251.2 517.5 254.7 515.6 258.7 514.9C262.6 514.2 268.2 513.7 273.6 513.8C278.9 513.9 287.9 515.2 290.7 515.4" stroke="url(#g18)" stroke-width="5.3" opacity="0.2"/><path d="M249.7 518.1C251.2 517.5 254.7 515.6 258.7 514.9C262.6 514.2 268.2 513.7 273.6 513.8C278.9 513.9 287.9 515.2 290.7 515.4" stroke="url(#g18)" stroke-width="2.3"/>
<path d="M250.3 497.5C251.7 496.7 255.7 493.9 258.7 492.5C261.6 491.1 264.7 489.7 268.0 489.3C271.2 489.0 276.5 490.3 278.2 490.4" stroke="url(#g19)" stroke-width="4.8" opacity="0.2"/><path d="M250.3 497.5C251.7 496.7 255.7 493.9 258.7 492.5C261.6 491.1 264.7 489.7 268.0 489.3C271.2 489.0 276.5 490.3 278.2 490.4" stroke="url(#g19)" stroke-width="2.1"/>
<path d="M276.4 499.4C277.8 500.0 282.4 502.4 284.8 502.8C287.2 503.1 289.8 501.8 290.7 501.6" stroke="url(#g20)" stroke-width="4.8" opacity="0.2"/><path d="M276.4 499.4C277.8 500.0 282.4 502.4 284.8 502.8C287.2 503.1 289.8 501.8 290.7 501.6" stroke="url(#g20)" stroke-width="2.1"/>
<path d="M255.9 482.8C256.9 482.1 259.7 479.7 262.4 478.9C265.0 478.1 268.8 477.9 271.7 478.1C274.7 478.3 276.9 479.1 280.1 480.0C283.3 480.9 289.0 482.8 290.7 483.4" stroke="url(#g21)" stroke-width="4.4" opacity="0.2"/><path d="M255.9 482.8C256.9 482.1 259.7 479.7 262.4 478.9C265.0 478.1 268.8 477.9 271.7 478.1C274.7 478.3 276.9 479.1 280.1 480.0C283.3 480.9 289.0 482.8 290.7 483.4" stroke="url(#g21)" stroke-width="1.9"/>
<path d="M252.1 473.8C253.2 472.9 256.3 469.6 258.7 468.2C261.0 466.8 263.0 465.7 266.1 465.4C269.2 465.2 273.3 465.9 277.3 466.8C281.3 467.6 287.9 469.7 290.0 470.3" stroke="url(#g22)" stroke-width="4.4" opacity="0.2"/><path d="M252.1 473.8C253.2 472.9 256.3 469.6 258.7 468.2C261.0 466.8 263.0 465.7 266.1 465.4C269.2 465.2 273.3 465.9 277.3 466.8C281.3 467.6 287.9 469.7 290.0 470.3" stroke="url(#g22)" stroke-width="1.9"/>
<path d="M254.0 460.8C255.4 459.7 259.7 455.7 262.4 454.3C265.0 452.9 267.1 452.3 269.9 452.4C272.6 452.5 275.9 453.6 279.2 454.6C282.5 455.6 287.9 457.7 289.6 458.4" stroke="url(#g23)" stroke-width="4.0" opacity="0.2"/><path d="M254.0 460.8C255.4 459.7 259.7 455.7 262.4 454.3C265.0 452.9 267.1 452.3 269.9 452.4C272.6 452.5 275.9 453.6 279.2 454.6C282.5 455.6 287.9 457.7 289.6 458.4" stroke="url(#g23)" stroke-width="1.7"/>
<path d="M250.8 508.7C252.7 508.1 258.0 505.5 262.4 504.8C266.8 504.1 272.6 504.4 277.3 504.6C282.0 504.8 288.2 505.9 290.4 506.1" stroke="url(#g24)" stroke-width="4.0" opacity="0.2"/><path d="M250.8 508.7C252.7 508.1 258.0 505.5 262.4 504.8C266.8 504.1 272.6 504.4 277.3 504.6C282.0 504.8 288.2 505.9 290.4 506.1" stroke="url(#g24)" stroke-width="1.7"/>
<path d="M257.7 448.7C259.1 447.9 263.5 444.9 266.1 444.0C268.8 443.1 271.2 442.8 273.6 443.1C275.9 443.3 279.0 444.9 280.1 445.3" stroke="url(#g25)" stroke-width="4.0" opacity="0.2"/><path d="M257.7 448.7C259.1 447.9 263.5 444.9 266.1 444.0C268.8 443.1 271.2 442.8 273.6 443.1C275.9 443.3 279.0 444.9 280.1 445.3" stroke="url(#g25)" stroke-width="1.7"/>
</g>
<g filter="url(#bl1)">
<rect x="256.0" y="437.5" width="1.0" height="89.5" fill="url(#g144)" opacity="0.21"/>
<rect x="258.5" y="431.3" width="1.0" height="95.7" fill="url(#g145)" opacity="0.13"/>
<rect x="261.0" y="449.2" width="3.0" height="77.8" fill="url(#g146)" opacity="0.14"/>
<rect x="264.5" y="428.3" width="1.5" height="98.7" fill="url(#g147)" opacity="0.19"/>
<rect x="266.5" y="442.6" width="2.0" height="84.4" fill="url(#g148)" opacity="0.17"/>
<rect x="280.0" y="436.2" width="1.5" height="90.8" fill="url(#g141)" opacity="0.11"/>
<rect x="281.5" y="436.7" width="1.0" height="90.3" fill="url(#g149)" opacity="0.1"/>
</g>
</g></g>
<rect x="249.0" y="323.5" width="1.0" height="214.0" fill="#31678e"/>
<rect x="291.0" y="323.5" width="1.0" height="214.0" fill="#2a788e"/>
<g clip-path="url(#s2)"><g filter="url(#vir)">
<rect x="326.0" y="322.5" width="66.0" height="216.0" fill="url(#g1)"/>
<rect x="326.0" y="438.0" width="66.0" height="100.0" fill="url(#g26)"/>
<rect x="326.0" y="323.0" width="39.0" height="147.0" fill="url(#g27)"/>
<g filter="url(#bl4)">
<rect x="300.0" y="425.0" width="60.0" height="135.0" fill="url(#g120)"/>
<rect x="300.0" y="455.0" width="115.0" height="105.0" fill="url(#g121)"/>
</g>
<rect x="326.0" y="536.3" width="66.0" height="1.7" fill="#a6a6a6" opacity="0.4"/>
<g fill="none" stroke-linecap="round" filter="url(#bl)">
<path d="M326.8 518.1C329.1 517.5 336.5 515.2 340.7 514.9C344.9 514.6 348.7 515.4 351.9 516.2C355.2 517.0 358.9 519.3 360.3 519.9" stroke="url(#g28)" stroke-width="5.3" opacity="0.2"/><path d="M326.8 518.1C329.1 517.5 336.5 515.2 340.7 514.9C344.9 514.6 348.7 515.4 351.9 516.2C355.2 517.0 358.9 519.3 360.3 519.9" stroke="url(#g28)" stroke-width="2.3"/>
<path d="M360.3 518.1C362.0 517.9 365.6 517.6 370.6 517.3C375.6 517.1 386.9 516.7 390.2 516.6" stroke="url(#g29)" stroke-width="4.0" opacity="0.2"/><path d="M360.3 518.1C362.0 517.9 365.6 517.6 370.6 517.3C375.6 517.1 386.9 516.7 390.2 516.6" stroke="url(#g29)" stroke-width="1.7"/>
<path d="M326.8 507.8C329.7 507.1 339.5 504.3 344.5 503.9C349.5 503.4 354.6 504.8 356.6 505.0" stroke="url(#g30)" stroke-width="4.4" opacity="0.2"/><path d="M326.8 507.8C329.7 507.1 339.5 504.3 344.5 503.9C349.5 503.4 354.6 504.8 356.6 505.0" stroke="url(#g30)" stroke-width="1.9"/>
<path d="M326.8 495.7C329.1 495.2 336.5 493.4 340.7 492.7C344.9 492.0 349.2 491.2 351.9 491.6C354.7 491.9 356.3 494.4 357.2 494.9" stroke="url(#g31)" stroke-width="5.3" opacity="0.2"/><path d="M326.8 495.7C329.1 495.2 336.5 493.4 340.7 492.7C344.9 492.0 349.2 491.2 351.9 491.6C354.7 491.9 356.3 494.4 357.2 494.9" stroke="url(#g31)" stroke-width="2.3"/>
<path d="M360.3 494.7C362.7 494.6 369.4 494.0 374.3 493.8C379.3 493.6 387.5 493.5 390.2 493.4" stroke="url(#g32)" stroke-width="4.4" opacity="0.2"/><path d="M360.3 494.7C362.7 494.6 369.4 494.0 374.3 493.8C379.3 493.6 387.5 493.5 390.2 493.4" stroke="url(#g32)" stroke-width="1.9"/>
<path d="M326.8 484.5C329.7 483.8 340.0 481.2 344.5 480.4C349.0 479.5 351.3 478.4 353.8 479.4C356.3 480.4 358.5 485.2 359.4 486.3" stroke="url(#g33)" stroke-width="4.8" opacity="0.2"/><path d="M326.8 484.5C329.7 483.8 340.0 481.2 344.5 480.4C349.0 479.5 351.3 478.4 353.8 479.4C356.3 480.4 358.5 485.2 359.4 486.3" stroke="url(#g33)" stroke-width="2.1"/>
<path d="M326.8 473.3C329.7 472.8 340.3 470.7 344.5 470.1C348.7 469.6 349.7 468.5 351.9 469.9C354.2 471.4 356.9 477.4 357.9 478.9" stroke="url(#g34)" stroke-width="4.8" opacity="0.2"/><path d="M326.8 473.3C329.7 472.8 340.3 470.7 344.5 470.1C348.7 469.6 349.7 468.5 351.9 469.9C354.2 471.4 356.9 477.4 357.9 478.9" stroke="url(#g34)" stroke-width="2.1"/>
<path d="M362.2 483.5C364.5 483.4 371.5 482.6 376.2 482.4C380.9 482.2 387.9 482.3 390.2 482.2" stroke="url(#g35)" stroke-width="4.0" opacity="0.2"/><path d="M362.2 483.5C364.5 483.4 371.5 482.6 376.2 482.4C380.9 482.2 387.9 482.3 390.2 482.2" stroke="url(#g35)" stroke-width="1.7"/>
<path d="M329.2 464.1C331.7 463.4 340.7 460.9 344.5 459.9C348.3 458.8 349.9 456.7 351.9 458.0C354.0 459.3 356.1 466.1 357.0 467.7" stroke="url(#g36)" stroke-width="4.4" opacity="0.2"/><path d="M329.2 464.1C331.7 463.4 340.7 460.9 344.5 459.9C348.3 458.8 349.9 456.7 351.9 458.0C354.0 459.3 356.1 466.1 357.0 467.7" stroke="url(#g36)" stroke-width="1.9"/>
<path d="M365.9 474.0C368.0 473.9 374.0 473.3 378.1 473.1C382.1 472.9 388.2 472.9 390.2 472.9" stroke="url(#g37)" stroke-width="4.0" opacity="0.2"/><path d="M365.9 474.0C368.0 473.9 374.0 473.3 378.1 473.1C382.1 472.9 388.2 472.9 390.2 472.9" stroke="url(#g37)" stroke-width="1.7"/>
<path d="M361.3 505.6C363.4 505.5 369.5 505.2 374.3 505.0C379.1 504.8 387.5 504.7 390.2 504.6" stroke="url(#g38)" stroke-width="4.0" opacity="0.2"/><path d="M361.3 505.6C363.4 505.5 369.5 505.2 374.3 505.0C379.1 504.8 387.5 504.7 390.2 504.6" stroke="url(#g38)" stroke-width="1.7"/>
<path d="M332.9 452.8C336.1 452.1 348.1 448.0 351.9 448.7C355.8 449.3 355.4 455.2 356.0 456.5" stroke="url(#g39)" stroke-width="4.0" opacity="0.2"/><path d="M332.9 452.8C336.1 452.1 348.1 448.0 351.9 448.7C355.8 449.3 355.4 455.2 356.0 456.5" stroke="url(#g39)" stroke-width="1.7"/>
<path d="M343.5 523.8C345.3 524.3 350.4 525.5 353.8 526.6C357.2 527.8 362.4 530.2 364.1 530.9" stroke="url(#g40)" stroke-width="4.4" opacity="0.2"/><path d="M343.5 523.8C345.3 524.3 350.4 525.5 353.8 526.6C357.2 527.8 362.4 530.2 364.1 530.9" stroke="url(#g40)" stroke-width="1.9"/>
</g>
<g filter="url(#bl1)">
<rect x="333.0" y="445.9" width="1.5" height="81.1" fill="url(#g150)" opacity="0.13"/>
<rect x="335.0" y="429.5" width="3.0" height="97.5" fill="url(#g151)" opacity="0.14"/>
<rect x="338.0" y="446.3" width="3.0" height="80.7" fill="url(#g152)" opacity="0.08"/>
<rect x="356.5" y="436.7" width="2.5" height="90.3" fill="url(#g153)" opacity="0.19"/>
<rect x="360.0" y="434.1" width="2.0" height="92.9" fill="url(#g154)" opacity="0.16"/>
<rect x="378.0" y="437.1" width="2.0" height="89.9" fill="url(#g153)" opacity="0.16"/>
<rect x="380.0" y="447.7" width="1.5" height="79.3" fill="url(#g139)" opacity="0.11"/>
<rect x="386.5" y="445.2" width="2.0" height="81.8" fill="url(#g155)" opacity="0.08"/>
</g>
</g></g>
<rect x="326.0" y="323.5" width="1.0" height="214.0" fill="#2c738e"/>
<rect x="391.0" y="323.5" width="1.0" height="214.0" fill="#25848e"/>
<g clip-path="url(#s3)"><g filter="url(#vir)">
<rect x="483.0" y="322.5" width="199.0" height="216.0" fill="url(#g1)"/>
<rect x="483.0" y="440.0" width="199.0" height="98.0" fill="url(#g41)"/>
<rect x="472.0" y="355.0" width="68.0" height="140.0" fill="url(#g42)"/>
<rect x="470.0" y="460.0" width="60.0" height="80.0" fill="url(#g43)"/>
<rect x="483.0" y="524.5" width="199.0" height="13.5" fill="url(#g44)"/>
<rect x="483.0" y="527.7" width="199.0" height="1.0" fill="#c3c3c3" opacity="0.5"/>
<rect x="483.0" y="530.5" width="199.0" height="1.0" fill="#c3c3c3" opacity="0.5"/>
<rect x="483.0" y="533.5" width="199.0" height="1.0" fill="#c3c3c3" opacity="0.5"/>
<rect x="560.0" y="430.0" width="10.0" height="101.0" fill="url(#g45)"/>
<rect x="579.0" y="430.0" width="8.0" height="101.0" fill="url(#g46)"/>
<rect x="603.5" y="430.0" width="7.0" height="101.0" fill="url(#g47)"/>
<rect x="572.0" y="430.0" width="6.0" height="101.0" fill="url(#g48)"/>
<rect x="608.3" y="323.0" width="1.7" height="208.0" fill="#c3c3c3" opacity="0.5"/>
<rect x="609.0" y="323.0" width="73.0" height="127.0" fill="url(#g49)"/>
<rect x="606.0" y="440.0" width="52.0" height="100.0" fill="url(#g50)"/>
<g filter="url(#bl4)">
<rect x="460.0" y="420.0" width="100.0" height="140.0" fill="url(#g122)"/>
<rect x="460.0" y="460.0" width="100.0" height="100.0" fill="url(#g123)"/>
<rect x="460.0" y="480.0" width="245.0" height="80.0" fill="url(#g124)"/>
<rect x="562.0" y="430.0" width="50.0" height="130.0" fill="url(#g125)"/>
<rect x="614.0" y="425.0" width="40.0" height="135.0" fill="url(#g126)"/>
<rect x="654.0" y="450.0" width="51.0" height="110.0" fill="url(#g127)"/>
<rect x="567.5" y="415.0" width="6.0" height="113.0" fill="url(#g128)"/>
<rect x="577.0" y="415.0" width="6.0" height="113.0" fill="url(#g129)"/>
<rect x="592.0" y="415.0" width="8.0" height="113.0" fill="url(#g130)"/>
</g>
<rect x="483.0" y="536.3" width="199.0" height="1.7" fill="#a6a6a6" opacity="0.4"/>
<g fill="none" stroke-linecap="round" filter="url(#bl)">
<path d="M484.0 517.1C485.6 516.6 490.5 514.3 493.7 514.0C496.8 513.6 501.4 514.9 503.0 515.1" stroke="url(#g51)" stroke-width="5.3" opacity="0.2"/><path d="M484.0 517.1C485.6 516.6 490.5 514.3 493.7 514.0C496.8 513.6 501.4 514.9 503.0 515.1" stroke="url(#g51)" stroke-width="2.3"/>
<path d="M503.0 515.1C506.4 515.2 516.7 515.8 523.5 515.8C530.3 515.8 540.6 515.2 544.0 515.1" stroke="url(#g52)" stroke-width="4.4" opacity="0.2"/><path d="M503.0 515.1C506.4 515.2 516.7 515.8 523.5 515.8C530.3 515.8 540.6 515.2 544.0 515.1" stroke="url(#g52)" stroke-width="1.9"/>
<path d="M544.0 515.1C545.6 515.1 550.5 515.0 553.4 515.1C556.2 515.2 559.9 515.5 561.2 515.6" stroke="url(#g53)" stroke-width="5.3" opacity="0.2"/><path d="M544.0 515.1C545.6 515.1 550.5 515.0 553.4 515.1C556.2 515.2 559.9 515.5 561.2 515.6" stroke="url(#g53)" stroke-width="2.3"/>
<path d="M484.0 506.9C485.9 506.1 490.8 502.6 495.5 502.0C500.2 501.4 506.4 502.9 512.3 503.1C518.2 503.4 523.2 503.5 531.0 503.7C538.7 503.9 554.3 504.2 559.0 504.3" stroke="url(#g54)" stroke-width="5.1" opacity="0.2"/><path d="M484.0 506.9C485.9 506.1 490.8 502.6 495.5 502.0C500.2 501.4 506.4 502.9 512.3 503.1C518.2 503.4 523.2 503.5 531.0 503.7C538.7 503.9 554.3 504.2 559.0 504.3" stroke="url(#g54)" stroke-width="2.2"/>
<path d="M484.0 494.7C486.2 494.1 493.3 491.5 497.4 490.6C501.5 489.7 503.0 489.2 508.6 489.3C514.2 489.4 524.1 490.6 531.0 491.2C537.8 491.8 546.5 492.4 549.6 492.7" stroke="url(#g55)" stroke-width="4.4" opacity="0.2"/><path d="M484.0 494.7C486.2 494.1 493.3 491.5 497.4 490.6C501.5 489.7 503.0 489.2 508.6 489.3C514.2 489.4 524.1 490.6 531.0 491.2C537.8 491.8 546.5 492.4 549.6 492.7" stroke="url(#g55)" stroke-width="1.9"/>
<path d="M485.8 484.5C488.1 483.6 494.8 480.5 499.3 479.4C503.7 478.4 507.0 478.0 512.3 478.1C517.6 478.2 527.9 479.7 531.0 480.0" stroke="url(#g56)" stroke-width="4.4" opacity="0.2"/><path d="M485.8 484.5C488.1 483.6 494.8 480.5 499.3 479.4C503.7 478.4 507.0 478.0 512.3 478.1C517.6 478.2 527.9 479.7 531.0 480.0" stroke="url(#g56)" stroke-width="1.9"/>
<path d="M485.8 474.2C488.4 473.3 496.4 469.1 501.1 468.4C505.8 467.8 512.0 470.0 514.2 470.3" stroke="url(#g57)" stroke-width="4.4" opacity="0.2"/><path d="M485.8 474.2C488.4 473.3 496.4 469.1 501.1 468.4C505.8 467.8 512.0 470.0 514.2 470.3" stroke="url(#g57)" stroke-width="1.9"/>
<path d="M487.7 465.8C490.2 464.8 498.9 460.7 503.0 459.9C507.1 459.0 510.8 460.6 512.3 460.8" stroke="url(#g58)" stroke-width="4.0" opacity="0.2"/><path d="M487.7 465.8C490.2 464.8 498.9 460.7 503.0 459.9C507.1 459.0 510.8 460.6 512.3 460.8" stroke="url(#g58)" stroke-width="1.7"/>
<path d="M504.9 526.1C509.2 526.0 522.0 525.8 531.0 525.5C540.0 525.2 554.3 524.4 559.0 524.2" stroke="url(#g59)" stroke-width="4.0" opacity="0.2"/><path d="M504.9 526.1C509.2 526.0 522.0 525.8 531.0 525.5C540.0 525.2 554.3 524.4 559.0 524.2" stroke="url(#g59)" stroke-width="1.7"/>
<path d="M571.1 516.9C573.7 516.8 581.8 516.3 586.9 516.2C592.1 516.1 599.4 516.3 601.9 516.4" stroke="url(#g60)" stroke-width="4.8" opacity="0.2"/><path d="M571.1 516.9C573.7 516.8 581.8 516.3 586.9 516.2C592.1 516.1 599.4 516.3 601.9 516.4" stroke="url(#g60)" stroke-width="2.1"/>
<path d="M572.0 505.6C574.5 505.4 582.3 504.7 586.9 504.6C591.6 504.5 597.8 504.9 600.0 505.0" stroke="url(#g61)" stroke-width="4.0" opacity="0.2"/><path d="M572.0 505.6C574.5 505.4 582.3 504.7 586.9 504.6C591.6 504.5 597.8 504.9 600.0 505.0" stroke="url(#g61)" stroke-width="1.7"/>
<path d="M612.7 518.1C614.6 517.7 620.1 516.0 624.3 515.8C628.4 515.6 633.9 516.0 637.3 516.8C640.7 517.5 642.7 519.1 644.8 520.5C646.9 521.8 649.1 524.1 650.0 524.8" stroke="url(#g62)" stroke-width="5.5" opacity="0.2"/><path d="M612.7 518.1C614.6 517.7 620.1 516.0 624.3 515.8C628.4 515.6 633.9 516.0 637.3 516.8C640.7 517.5 642.7 519.1 644.8 520.5C646.9 521.8 649.1 524.1 650.0 524.8" stroke="url(#g62)" stroke-width="2.4"/>
<path d="M613.6 508.7C615.7 508.0 622.2 505.2 626.1 504.6C630.1 504.1 633.8 504.3 637.3 505.6C640.8 506.9 645.4 511.3 647.0 512.5" stroke="url(#g63)" stroke-width="4.4" opacity="0.2"/><path d="M613.6 508.7C615.7 508.0 622.2 505.2 626.1 504.6C630.1 504.1 633.8 504.3 637.3 505.6C640.8 506.9 645.4 511.3 647.0 512.5" stroke="url(#g63)" stroke-width="1.9"/>
<path d="M613.6 498.5C615.7 497.9 622.5 495.8 626.1 495.3C629.8 494.8 632.1 494.2 635.4 495.7C638.8 497.1 644.3 502.7 646.1 504.1" stroke="url(#g64)" stroke-width="4.4" opacity="0.2"/><path d="M613.6 498.5C615.7 497.9 622.5 495.8 626.1 495.3C629.8 494.8 632.1 494.2 635.4 495.7C638.8 497.1 644.3 502.7 646.1 504.1" stroke="url(#g64)" stroke-width="1.9"/>
<path d="M613.6 490.1C615.7 489.4 622.5 486.5 626.1 486.0C629.8 485.4 632.6 485.8 635.4 486.9C638.3 488.1 642.0 491.9 643.3 492.9" stroke="url(#g65)" stroke-width="5.1" opacity="0.2"/><path d="M613.6 490.1C615.7 489.4 622.5 486.5 626.1 486.0C629.8 485.4 632.6 485.8 635.4 486.9C638.3 488.1 642.0 491.9 643.3 492.9" stroke="url(#g65)" stroke-width="2.2"/>
<path d="M614.6 480.7C616.5 479.9 622.6 476.4 626.1 475.7C629.6 475.0 632.6 475.2 635.4 476.6C638.3 478.1 642.0 483.2 643.3 484.5" stroke="url(#g66)" stroke-width="4.4" opacity="0.2"/><path d="M614.6 480.7C616.5 479.9 622.6 476.4 626.1 475.7C629.6 475.0 632.6 475.2 635.4 476.6C638.3 478.1 642.0 483.2 643.3 484.5" stroke="url(#g66)" stroke-width="1.9"/>
<path d="M615.5 470.5C617.3 469.6 623.1 466.3 626.1 465.4C629.1 464.6 631.0 464.1 633.6 465.4C636.1 466.8 640.1 472.0 641.4 473.3" stroke="url(#g67)" stroke-width="4.4" opacity="0.2"/><path d="M615.5 470.5C617.3 469.6 623.1 466.3 626.1 465.4C629.1 464.6 631.0 464.1 633.6 465.4C636.1 466.8 640.1 472.0 641.4 473.3" stroke="url(#g67)" stroke-width="1.9"/>
<path d="M616.4 461.2C618.0 460.3 623.3 457.0 626.1 456.1C629.0 455.3 631.3 454.8 633.6 456.1C635.8 457.4 638.6 462.6 639.6 464.0" stroke="url(#g68)" stroke-width="4.4" opacity="0.2"/><path d="M616.4 461.2C618.0 460.3 623.3 457.0 626.1 456.1C629.0 455.3 631.3 454.8 633.6 456.1C635.8 457.4 638.6 462.6 639.6 464.0" stroke="url(#g68)" stroke-width="1.9"/>
<path d="M618.3 450.9C619.9 450.2 625.1 447.1 628.0 446.8C630.9 446.5 634.5 448.7 635.8 449.0" stroke="url(#g69)" stroke-width="4.0" opacity="0.2"/><path d="M618.3 450.9C619.9 450.2 625.1 447.1 628.0 446.8C630.9 446.5 634.5 448.7 635.8 449.0" stroke="url(#g69)" stroke-width="1.7"/>
<path d="M652.2 517.3C654.4 517.2 660.6 516.8 665.3 516.8C670.0 516.7 677.7 517.1 680.2 517.1" stroke="url(#g70)" stroke-width="4.0" opacity="0.2"/><path d="M652.2 517.3C654.4 517.2 660.6 516.8 665.3 516.8C670.0 516.7 677.7 517.1 680.2 517.1" stroke="url(#g70)" stroke-width="1.7"/>
<path d="M652.2 506.1C654.4 506.0 660.6 505.6 665.3 505.6C670.0 505.5 677.7 505.9 680.2 505.9" stroke="url(#g71)" stroke-width="4.0" opacity="0.2"/><path d="M652.2 506.1C654.4 506.0 660.6 505.6 665.3 505.6C670.0 505.5 677.7 505.9 680.2 505.9" stroke="url(#g71)" stroke-width="1.7"/>
<path d="M652.2 495.9C654.4 495.8 660.6 495.3 665.3 495.3C670.0 495.3 677.7 495.6 680.2 495.7" stroke="url(#g72)" stroke-width="4.0" opacity="0.2"/><path d="M652.2 495.9C654.4 495.8 660.6 495.3 665.3 495.3C670.0 495.3 677.7 495.6 680.2 495.7" stroke="url(#g72)" stroke-width="1.7"/>
</g>
<g filter="url(#bl1)">
<rect x="488.0" y="441.3" width="1.5" height="85.7" fill="url(#g137)" opacity="0.19"/>
<rect x="499.0" y="443.9" width="3.0" height="83.1" fill="url(#g142)" opacity="0.19"/>
<rect x="502.5" y="434.4" width="3.0" height="92.6" fill="url(#g156)" opacity="0.09"/>
<rect x="505.5" y="434.6" width="3.0" height="92.4" fill="url(#g157)" opacity="0.16"/>
<rect x="508.5" y="425.3" width="3.0" height="101.7" fill="url(#g158)" opacity="0.09"/>
<rect x="513.0" y="430.8" width="3.0" height="96.2" fill="url(#g159)" opacity="0.08"/>
<rect x="527.5" y="424.7" width="2.5" height="102.3" fill="url(#g158)" opacity="0.18"/>
<rect x="530.5" y="444.5" width="2.5" height="82.5" fill="url(#g160)" opacity="0.2"/>
<rect x="533.5" y="428.3" width="2.0" height="98.7" fill="url(#g161)" opacity="0.23"/>
<rect x="538.5" y="431.1" width="1.5" height="95.9" fill="url(#g145)" opacity="0.19"/>
<rect x="540.5" y="436.3" width="2.0" height="90.7" fill="url(#g162)" opacity="0.07"/>
<rect x="550.5" y="429.5" width="1.0" height="97.5" fill="url(#g136)" opacity="0.25"/>
<rect x="555.5" y="439.8" width="2.5" height="87.2" fill="url(#g163)" opacity="0.16"/>
<rect x="558.0" y="424.7" width="2.0" height="102.3" fill="url(#g164)" opacity="0.14"/>
<rect x="567.5" y="419.4" width="1.0" height="107.6" fill="url(#g165)" opacity="0.3"/>
<rect x="572.5" y="425.7" width="1.0" height="101.3" fill="url(#g166)" opacity="0.22"/>
<rect x="574.0" y="432.3" width="2.0" height="94.7" fill="url(#g167)" opacity="0.13"/>
<rect x="577.0" y="417.5" width="1.0" height="109.5" fill="url(#g168)" opacity="0.21"/>
<rect x="585.0" y="417.8" width="3.0" height="109.2" fill="url(#g169)" opacity="0.15"/>
<rect x="591.0" y="423.3" width="1.5" height="103.7" fill="url(#g170)" opacity="0.29"/>
<rect x="599.0" y="416.8" width="3.0" height="110.2" fill="url(#g171)" opacity="0.23"/>
<rect x="603.5" y="426.1" width="1.0" height="100.9" fill="url(#g166)" opacity="0.31"/>
<rect x="607.0" y="424.4" width="1.5" height="102.6" fill="url(#g172)" opacity="0.2"/>
<rect x="610.5" y="414.0" width="1.0" height="113.0" fill="url(#g173)" opacity="0.21"/>
<rect x="611.5" y="425.7" width="0.5" height="101.3" fill="url(#g174)" opacity="0.27"/>
<rect x="616.0" y="424.1" width="2.5" height="102.9" fill="url(#g175)" opacity="0.17"/>
<rect x="620.0" y="443.0" width="3.0" height="84.0" fill="url(#g148)" opacity="0.18"/>
<rect x="626.5" y="425.5" width="1.0" height="101.5" fill="url(#g174)" opacity="0.15"/>
<rect x="629.0" y="428.9" width="3.0" height="98.1" fill="url(#g136)" opacity="0.19"/>
<rect x="637.0" y="424.8" width="3.0" height="102.2" fill="url(#g164)" opacity="0.1"/>
<rect x="661.5" y="439.6" width="2.5" height="87.4" fill="url(#g176)" opacity="0.21"/>
<rect x="671.0" y="423.4" width="3.0" height="103.6" fill="url(#g170)" opacity="0.21"/>
</g>
</g></g>
<rect x="484.0" y="527.0" width="197.0" height="9.4" fill="#c2df23" opacity="0.35"/>
<rect x="484.0" y="527.7" width="197.0" height="1.0" fill="#9bd93c" opacity="0.4"/>
<rect x="484.0" y="530.5" width="197.0" height="1.0" fill="#9bd93c" opacity="0.4"/>
<rect x="484.0" y="533.5" width="197.0" height="1.0" fill="#9bd93c" opacity="0.4"/>
<rect x="483.0" y="323.5" width="1.0" height="214.0" fill="#355f8d"/>
<rect x="681.0" y="323.5" width="1.0" height="214.0" fill="#482475"/>
<g clip-path="url(#s4)"><g filter="url(#vir)">
<rect x="910.0" y="322.5" width="211.0" height="216.0" fill="url(#g1)"/>
<rect x="943.5" y="323.0" width="178.0" height="215.0" fill="url(#g73)"/>
<rect x="966.7" y="323.0" width="41.3" height="215.0" fill="url(#g74)"/>
<rect x="966.7" y="323.0" width="10.3" height="215.0" fill="url(#g75)"/>
<rect x="983.0" y="323.0" width="6.0" height="215.0" fill="url(#g76)"/>
<rect x="945.5" y="323.0" width="4.0" height="215.0" fill="url(#g77)"/>
<rect x="1055.0" y="323.0" width="5.0" height="215.0" fill="url(#g78)"/>
<rect x="1086.0" y="323.0" width="7.0" height="215.0" fill="url(#g79)"/>
<rect x="1093.0" y="323.0" width="29.0" height="122.0" fill="url(#g80)"/>
<rect x="967.0" y="425.0" width="155.0" height="113.0" fill="url(#g81)"/>
<rect x="1042.0" y="445.0" width="60.0" height="90.0" fill="url(#g82)"/>
<rect x="910.0" y="522.5" width="212.0" height="15.5" fill="url(#g83)"/>
<g filter="url(#bl4)">
<rect x="972.0" y="385.0" width="173.0" height="175.0" fill="url(#g131)"/>
<rect x="990.0" y="430.0" width="56.0" height="130.0" fill="url(#g132)"/>
<rect x="1046.0" y="430.0" width="48.0" height="130.0" fill="url(#g133)"/>
<rect x="1058.0" y="445.0" width="30.0" height="75.0" fill="url(#g134)"/>
<rect x="1094.0" y="440.0" width="51.0" height="120.0" fill="url(#g135)"/>
</g>
<rect x="910.0" y="536.3" width="211.0" height="1.7" fill="#a6a6a6" opacity="0.4"/>
<g fill="none" stroke-linecap="round" filter="url(#bl)">
<path d="M973.1 468.2C974.2 468.6 977.4 468.9 979.3 470.1C981.2 471.3 983.5 474.5 984.3 475.3" stroke="url(#g84)" stroke-width="5.7" opacity="0.2"/><path d="M973.1 468.2C974.2 468.6 977.4 468.9 979.3 470.1C981.2 471.3 983.5 474.5 984.3 475.3" stroke="url(#g84)" stroke-width="2.5"/>
<path d="M973.1 487.8C974.2 488.1 977.4 488.5 979.3 489.7C981.2 490.9 983.5 494.1 984.3 494.9" stroke="url(#g85)" stroke-width="5.7" opacity="0.2"/><path d="M973.1 487.8C974.2 488.1 977.4 488.5 979.3 489.7C981.2 490.9 983.5 494.1 984.3 494.9" stroke="url(#g85)" stroke-width="2.5"/>
<path d="M973.1 498.1C974.2 498.4 977.4 498.8 979.3 500.0C981.2 501.1 983.5 504.3 984.3 505.2" stroke="url(#g86)" stroke-width="5.7" opacity="0.2"/><path d="M973.1 498.1C974.2 498.4 977.4 498.8 979.3 500.0C981.2 501.1 983.5 504.3 984.3 505.2" stroke="url(#g86)" stroke-width="2.5"/>
<path d="M973.1 516.8C974.2 517.1 977.4 517.4 979.3 518.6C981.2 519.8 983.5 523.0 984.3 523.8" stroke="url(#g87)" stroke-width="5.7" opacity="0.2"/><path d="M973.1 516.8C974.2 517.1 977.4 517.4 979.3 518.6C981.2 519.8 983.5 523.0 984.3 523.8" stroke="url(#g87)" stroke-width="2.5"/>
<path d="M973.1 525.5C974.3 525.6 978.3 526.0 980.2 526.3C982.2 526.6 984.1 527.2 984.9 527.4" stroke="url(#g88)" stroke-width="4.4" opacity="0.2"/><path d="M973.1 525.5C974.3 525.6 978.3 526.0 980.2 526.3C982.2 526.6 984.1 527.2 984.9 527.4" stroke="url(#g88)" stroke-width="1.9"/>
<path d="M992.9 516.2C995.5 516.2 1003.2 516.4 1008.2 516.4C1013.2 516.4 1017.5 516.0 1023.1 516.2C1028.7 516.4 1036.5 516.8 1041.8 517.7C1047.1 518.6 1050.5 521.5 1054.9 521.8C1059.2 522.0 1062.6 520.3 1067.9 519.2C1073.2 518.0 1083.5 515.6 1086.6 514.9" stroke="url(#g89)" stroke-width="5.5" opacity="0.2"/><path d="M992.9 516.2C995.5 516.2 1003.2 516.4 1008.2 516.4C1013.2 516.4 1017.5 516.0 1023.1 516.2C1028.7 516.4 1036.5 516.8 1041.8 517.7C1047.1 518.6 1050.5 521.5 1054.9 521.8C1059.2 522.0 1062.6 520.3 1067.9 519.2C1073.2 518.0 1083.5 515.6 1086.6 514.9" stroke="url(#g89)" stroke-width="2.4"/>
<path d="M992.4 495.3C993.1 495.3 995.4 495.1 997.0 495.3C998.7 495.5 1001.4 496.2 1002.2 496.4" stroke="url(#g90)" stroke-width="5.7" opacity="0.2"/><path d="M992.4 495.3C993.1 495.3 995.4 495.1 997.0 495.3C998.7 495.5 1001.4 496.2 1002.2 496.4" stroke="url(#g90)" stroke-width="2.5"/>
<path d="M992.4 463.6C993.4 463.6 996.8 463.4 998.9 463.6C1001.0 463.8 1003.9 464.5 1004.9 464.7" stroke="url(#g91)" stroke-width="4.8" opacity="0.2"/><path d="M992.4 463.6C993.4 463.6 996.8 463.4 998.9 463.6C1001.0 463.8 1003.9 464.5 1004.9 464.7" stroke="url(#g91)" stroke-width="2.1"/>
<path d="M1004.5 506.1C1007.3 506.0 1015.0 505.4 1021.3 505.4C1027.5 505.4 1038.4 506.0 1041.8 506.1" stroke="url(#g92)" stroke-width="4.4" opacity="0.2"/><path d="M1004.5 506.1C1007.3 506.0 1015.0 505.4 1021.3 505.4C1027.5 505.4 1038.4 506.0 1041.8 506.1" stroke="url(#g92)" stroke-width="1.9"/>
<path d="M993.3 505.6C994.2 505.5 997.0 505.1 998.9 505.2C1000.7 505.3 1003.5 506.0 1004.5 506.1" stroke="url(#g93)" stroke-width="4.4" opacity="0.2"/><path d="M993.3 505.6C994.2 505.5 997.0 505.1 998.9 505.2C1000.7 505.3 1003.5 506.0 1004.5 506.1" stroke="url(#g93)" stroke-width="1.9"/>
<path d="M1011.9 523.3C1015.0 523.4 1024.4 523.8 1030.6 524.2C1036.8 524.6 1046.1 525.3 1049.3 525.5" stroke="url(#g94)" stroke-width="4.0" opacity="0.2"/><path d="M1011.9 523.3C1015.0 523.4 1024.4 523.8 1030.6 524.2C1036.8 524.6 1046.1 525.3 1049.3 525.5" stroke="url(#g94)" stroke-width="1.7"/>
<path d="M1006.3 465.1C1008.2 464.5 1014.1 462.5 1017.5 461.3C1021.0 460.2 1024.1 457.9 1027.2 458.0C1030.3 458.1 1033.3 460.4 1036.2 462.1C1039.1 463.8 1043.2 467.2 1044.6 468.2" stroke="url(#g95)" stroke-width="2.9" opacity="0.2"/><path d="M1006.3 465.1C1008.2 464.5 1014.1 462.5 1017.5 461.3C1021.0 460.2 1024.1 457.9 1027.2 458.0C1030.3 458.1 1033.3 460.4 1036.2 462.1C1039.1 463.8 1043.2 467.2 1044.6 468.2" stroke="url(#g95)" stroke-width="1.2"/>
<path d="M1006.3 469.2C1008.2 468.6 1014.1 466.6 1017.5 465.4C1021.0 464.3 1024.1 462.0 1027.2 462.1C1030.3 462.2 1033.3 464.5 1036.2 466.2C1039.1 467.9 1043.2 471.3 1044.6 472.4" stroke="url(#g96)" stroke-width="2.9" opacity="0.2"/><path d="M1006.3 469.2C1008.2 468.6 1014.1 466.6 1017.5 465.4C1021.0 464.3 1024.1 462.0 1027.2 462.1C1030.3 462.2 1033.3 464.5 1036.2 466.2C1039.1 467.9 1043.2 471.3 1044.6 472.4" stroke="url(#g96)" stroke-width="1.2"/>
<path d="M1006.3 473.5C1008.2 472.8 1014.1 470.9 1017.5 469.7C1021.0 468.6 1024.1 466.3 1027.2 466.4C1030.3 466.5 1033.3 468.8 1036.2 470.5C1039.1 472.2 1043.2 475.6 1044.6 476.6" stroke="url(#g97)" stroke-width="2.9" opacity="0.2"/><path d="M1006.3 473.5C1008.2 472.8 1014.1 470.9 1017.5 469.7C1021.0 468.6 1024.1 466.3 1027.2 466.4C1030.3 466.5 1033.3 468.8 1036.2 470.5C1039.1 472.2 1043.2 475.6 1044.6 476.6" stroke="url(#g97)" stroke-width="1.2"/>
<path d="M1006.3 477.8C1008.2 477.1 1014.1 475.2 1017.5 474.0C1021.0 472.8 1024.1 470.5 1027.2 470.7C1030.3 470.8 1033.3 473.1 1036.2 474.8C1039.1 476.5 1043.2 479.9 1044.6 480.9" stroke="url(#g98)" stroke-width="2.9" opacity="0.2"/><path d="M1006.3 477.8C1008.2 477.1 1014.1 475.2 1017.5 474.0C1021.0 472.8 1024.1 470.5 1027.2 470.7C1030.3 470.8 1033.3 473.1 1036.2 474.8C1039.1 476.5 1043.2 479.9 1044.6 480.9" stroke="url(#g98)" stroke-width="1.2"/>
<path d="M1006.3 481.9C1008.2 481.2 1014.1 479.3 1017.5 478.1C1021.0 477.0 1024.1 474.7 1027.2 474.8C1030.3 474.9 1033.3 477.2 1036.2 478.9C1039.1 480.6 1043.2 484.0 1044.6 485.0" stroke="url(#g99)" stroke-width="2.9" opacity="0.2"/><path d="M1006.3 481.9C1008.2 481.2 1014.1 479.3 1017.5 478.1C1021.0 477.0 1024.1 474.7 1027.2 474.8C1030.3 474.9 1033.3 477.2 1036.2 478.9C1039.1 480.6 1043.2 484.0 1044.6 485.0" stroke="url(#g99)" stroke-width="1.2"/>
<path d="M1006.3 486.0C1008.2 485.3 1014.1 483.4 1017.5 482.2C1021.0 481.1 1024.1 478.8 1027.2 478.9C1030.3 479.0 1033.3 481.3 1036.2 483.0C1039.1 484.7 1043.2 488.1 1044.6 489.1" stroke="url(#g100)" stroke-width="2.9" opacity="0.2"/><path d="M1006.3 486.0C1008.2 485.3 1014.1 483.4 1017.5 482.2C1021.0 481.1 1024.1 478.8 1027.2 478.9C1030.3 479.0 1033.3 481.3 1036.2 483.0C1039.1 484.7 1043.2 488.1 1044.6 489.1" stroke="url(#g100)" stroke-width="1.2"/>
<path d="M1006.3 490.3C1008.2 489.6 1014.1 487.7 1017.5 486.5C1021.0 485.3 1024.1 483.0 1027.2 483.2C1030.3 483.3 1033.3 485.6 1036.2 487.3C1039.1 489.0 1043.2 492.4 1044.6 493.4" stroke="url(#g101)" stroke-width="2.9" opacity="0.2"/><path d="M1006.3 490.3C1008.2 489.6 1014.1 487.7 1017.5 486.5C1021.0 485.3 1024.1 483.0 1027.2 483.2C1030.3 483.3 1033.3 485.6 1036.2 487.3C1039.1 489.0 1043.2 492.4 1044.6 493.4" stroke="url(#g101)" stroke-width="1.2"/>
<path d="M1006.3 494.4C1008.2 493.7 1014.1 491.8 1017.5 490.6C1021.0 489.5 1024.1 487.2 1027.2 487.3C1030.3 487.4 1033.3 489.7 1036.2 491.4C1039.1 493.1 1043.2 496.5 1044.6 497.5" stroke="url(#g102)" stroke-width="2.9" opacity="0.2"/><path d="M1006.3 494.4C1008.2 493.7 1014.1 491.8 1017.5 490.6C1021.0 489.5 1024.1 487.2 1027.2 487.3C1030.3 487.4 1033.3 489.7 1036.2 491.4C1039.1 493.1 1043.2 496.5 1044.6 497.5" stroke="url(#g102)" stroke-width="1.2"/>
<path d="M1019.4 483.7C1020.6 483.5 1024.5 482.0 1026.9 482.2C1029.2 482.5 1032.3 484.6 1033.4 485.0" stroke="url(#g103)" stroke-width="4.4" opacity="0.2"/><path d="M1019.4 483.7C1020.6 483.5 1024.5 482.0 1026.9 482.2C1029.2 482.5 1032.3 484.6 1033.4 485.0" stroke="url(#g103)" stroke-width="1.9"/>
<path d="M1028.7 496.2C1030.3 496.1 1035.4 495.6 1038.1 495.7C1040.7 495.8 1043.5 496.6 1044.6 496.8" stroke="url(#g104)" stroke-width="4.0" opacity="0.2"/><path d="M1028.7 496.2C1030.3 496.1 1035.4 495.6 1038.1 495.7C1040.7 495.8 1043.5 496.6 1044.6 496.8" stroke="url(#g104)" stroke-width="1.7"/>
<path d="M1055.8 484.1C1057.2 483.0 1061.2 479.6 1064.2 477.6C1067.1 475.6 1070.9 473.2 1073.5 472.0C1076.2 470.7 1078.2 470.0 1080.0 470.1C1081.9 470.2 1083.4 470.5 1084.7 472.4C1086.0 474.2 1087.2 479.8 1087.7 481.3" stroke="url(#g105)" stroke-width="5.5" opacity="0.2"/><path d="M1055.8 484.1C1057.2 483.0 1061.2 479.6 1064.2 477.6C1067.1 475.6 1070.9 473.2 1073.5 472.0C1076.2 470.7 1078.2 470.0 1080.0 470.1C1081.9 470.2 1083.4 470.5 1084.7 472.4C1086.0 474.2 1087.2 479.8 1087.7 481.3" stroke="url(#g105)" stroke-width="2.4"/>
<path d="M1055.8 493.4C1057.2 492.3 1061.2 488.9 1064.2 486.9C1067.1 484.9 1070.9 482.5 1073.5 481.3C1076.2 480.1 1078.2 479.4 1080.0 479.4C1081.9 479.5 1083.4 479.8 1084.7 481.7C1086.0 483.5 1087.2 489.1 1087.7 490.6" stroke="url(#g106)" stroke-width="5.5" opacity="0.2"/><path d="M1055.8 493.4C1057.2 492.3 1061.2 488.9 1064.2 486.9C1067.1 484.9 1070.9 482.5 1073.5 481.3C1076.2 480.1 1078.2 479.4 1080.0 479.4C1081.9 479.5 1083.4 479.8 1084.7 481.7C1086.0 483.5 1087.2 489.1 1087.7 490.6" stroke="url(#g106)" stroke-width="2.4"/>
<path d="M1055.8 507.4C1057.2 506.3 1061.2 502.9 1064.2 500.9C1067.1 498.9 1070.9 496.5 1073.5 495.3C1076.2 494.1 1078.2 493.4 1080.0 493.4C1081.9 493.5 1083.4 493.8 1084.7 495.7C1086.0 497.5 1087.2 503.1 1087.7 504.6" stroke="url(#g107)" stroke-width="5.5" opacity="0.2"/><path d="M1055.8 507.4C1057.2 506.3 1061.2 502.9 1064.2 500.9C1067.1 498.9 1070.9 496.5 1073.5 495.3C1076.2 494.1 1078.2 493.4 1080.0 493.4C1081.9 493.5 1083.4 493.8 1084.7 495.7C1086.0 497.5 1087.2 503.1 1087.7 504.6" stroke="url(#g107)" stroke-width="2.4"/>
<path d="M1055.8 517.7C1057.2 516.6 1061.2 513.2 1064.2 511.2C1067.1 509.1 1070.9 506.8 1073.5 505.6C1076.2 504.3 1078.2 503.6 1080.0 503.7C1081.9 503.8 1083.4 504.1 1084.7 505.9C1086.0 507.8 1087.2 513.4 1087.7 514.9" stroke="url(#g108)" stroke-width="5.5" opacity="0.2"/><path d="M1055.8 517.7C1057.2 516.6 1061.2 513.2 1064.2 511.2C1067.1 509.1 1070.9 506.8 1073.5 505.6C1076.2 504.3 1078.2 503.6 1080.0 503.7C1081.9 503.8 1083.4 504.1 1084.7 505.9C1086.0 507.8 1087.2 513.4 1087.7 514.9" stroke="url(#g108)" stroke-width="2.4"/>
<path d="M1055.8 527.9C1057.2 526.9 1061.2 523.4 1064.2 521.4C1067.1 519.4 1070.9 517.1 1073.5 515.8C1076.2 514.6 1078.2 513.9 1080.0 514.0C1081.9 514.0 1083.4 514.3 1084.7 516.2C1086.0 518.1 1087.2 523.7 1087.7 525.1" stroke="url(#g109)" stroke-width="5.5" opacity="0.2"/><path d="M1055.8 527.9C1057.2 526.9 1061.2 523.4 1064.2 521.4C1067.1 519.4 1070.9 517.1 1073.5 515.8C1076.2 514.6 1078.2 513.9 1080.0 514.0C1081.9 514.0 1083.4 514.3 1084.7 516.2C1086.0 518.1 1087.2 523.7 1087.7 525.1" stroke="url(#g109)" stroke-width="2.4"/>
<path d="M1060.4 465.4C1062.0 464.2 1066.8 460.0 1069.8 458.0C1072.7 456.0 1075.8 453.8 1078.2 453.3C1080.5 452.9 1082.4 453.6 1083.8 455.2C1085.2 456.7 1086.1 461.4 1086.6 462.6" stroke="url(#g110)" stroke-width="4.0" opacity="0.2"/><path d="M1060.4 465.4C1062.0 464.2 1066.8 460.0 1069.8 458.0C1072.7 456.0 1075.8 453.8 1078.2 453.3C1080.5 452.9 1082.4 453.6 1083.8 455.2C1085.2 456.7 1086.1 461.4 1086.6 462.6" stroke="url(#g110)" stroke-width="1.7"/>
<path d="M1060.4 473.8C1062.0 472.6 1066.8 468.4 1069.8 466.4C1072.7 464.4 1075.8 462.2 1078.2 461.7C1080.5 461.2 1082.4 462.0 1083.8 463.6C1085.2 465.1 1086.1 469.8 1086.6 471.0" stroke="url(#g111)" stroke-width="4.0" opacity="0.2"/><path d="M1060.4 473.8C1062.0 472.6 1066.8 468.4 1069.8 466.4C1072.7 464.4 1075.8 462.2 1078.2 461.7C1080.5 461.2 1082.4 462.0 1083.8 463.6C1085.2 465.1 1086.1 469.8 1086.6 471.0" stroke="url(#g111)" stroke-width="1.7"/>
<path d="M1093.1 477.0C1095.1 476.0 1100.8 472.7 1105.2 471.0C1109.7 469.4 1117.4 467.9 1119.8 467.3" stroke="url(#g112)" stroke-width="4.4" opacity="0.2"/><path d="M1093.1 477.0C1095.1 476.0 1100.8 472.7 1105.2 471.0C1109.7 469.4 1117.4 467.9 1119.8 467.3" stroke="url(#g112)" stroke-width="1.9"/>
<path d="M1093.1 489.1C1095.1 488.1 1100.8 484.8 1105.2 483.2C1109.7 481.6 1117.4 480.1 1119.8 479.4" stroke="url(#g113)" stroke-width="4.4" opacity="0.2"/><path d="M1093.1 489.1C1095.1 488.1 1100.8 484.8 1105.2 483.2C1109.7 481.6 1117.4 480.1 1119.8 479.4" stroke="url(#g113)" stroke-width="1.9"/>
<path d="M1093.1 501.3C1095.1 500.3 1100.8 496.9 1105.2 495.3C1109.7 493.7 1117.4 492.2 1119.8 491.6" stroke="url(#g114)" stroke-width="4.4" opacity="0.2"/><path d="M1093.1 501.3C1095.1 500.3 1100.8 496.9 1105.2 495.3C1109.7 493.7 1117.4 492.2 1119.8 491.6" stroke="url(#g114)" stroke-width="1.9"/>
<path d="M1093.1 467.7C1095.1 466.7 1100.8 463.3 1105.2 461.7C1109.7 460.1 1117.4 458.6 1119.8 458.0" stroke="url(#g115)" stroke-width="4.4" opacity="0.2"/><path d="M1093.1 467.7C1095.1 466.7 1100.8 463.3 1105.2 461.7C1109.7 460.1 1117.4 458.6 1119.8 458.0" stroke="url(#g115)" stroke-width="1.9"/>
</g>
<g filter="url(#bl1)">
<rect x="968.5" y="418.2" width="3.0" height="108.8" fill="url(#g177)" opacity="0.16"/>
<rect x="978.0" y="413.8" width="2.5" height="113.2" fill="url(#g178)" opacity="0.15"/>
<rect x="984.5" y="411.1" width="2.0" height="115.9" fill="url(#g179)" opacity="0.13"/>
<rect x="1000.5" y="418.2" width="1.0" height="108.8" fill="url(#g177)" opacity="0.17"/>
<rect x="1005.0" y="413.3" width="3.0" height="113.7" fill="url(#g180)" opacity="0.15"/>
<rect x="1011.0" y="421.1" width="1.0" height="105.9" fill="url(#g181)" opacity="0.11"/>
<rect x="1013.0" y="414.3" width="2.5" height="112.7" fill="url(#g182)" opacity="0.08"/>
<rect x="1016.5" y="409.2" width="2.0" height="117.8" fill="url(#g183)" opacity="0.17"/>
<rect x="1022.5" y="424.7" width="1.0" height="102.3" fill="url(#g184)" opacity="0.11"/>
<rect x="1025.0" y="413.8" width="3.0" height="113.2" fill="url(#g182)" opacity="0.18"/>
<rect x="1028.5" y="405.2" width="3.0" height="121.8" fill="url(#g185)" opacity="0.13"/>
<rect x="1032.0" y="421.0" width="2.0" height="106.0" fill="url(#g181)" opacity="0.16"/>
<rect x="1038.5" y="416.8" width="2.5" height="110.2" fill="url(#g186)" opacity="0.12"/>
<rect x="1044.0" y="413.7" width="1.0" height="113.3" fill="url(#g178)" opacity="0.14"/>
<rect x="1046.0" y="437.3" width="1.0" height="89.7" fill="url(#g149)" opacity="0.17"/>
<rect x="1048.5" y="430.7" width="1.0" height="96.3" fill="url(#g159)" opacity="0.15"/>
<rect x="1051.0" y="430.5" width="2.5" height="96.5" fill="url(#g145)" opacity="0.1"/>
<rect x="1053.5" y="421.0" width="2.5" height="106.0" fill="url(#g187)" opacity="0.06"/>
<rect x="1062.0" y="427.3" width="1.0" height="99.7" fill="url(#g188)" opacity="0.15"/>
<rect x="1063.5" y="424.7" width="3.0" height="102.3" fill="url(#g158)" opacity="0.2"/>
<rect x="1069.5" y="425.4" width="3.0" height="101.6" fill="url(#g164)" opacity="0.13"/>
<rect x="1075.5" y="423.4" width="1.0" height="103.6" fill="url(#g170)" opacity="0.15"/>
<rect x="1079.5" y="430.1" width="2.5" height="96.9" fill="url(#g151)" opacity="0.13"/>
<rect x="1086.0" y="425.1" width="1.5" height="101.9" fill="url(#g158)" opacity="0.17"/>
<rect x="1089.0" y="434.0" width="3.0" height="93.0" fill="url(#g154)" opacity="0.13"/>
<rect x="1092.5" y="428.0" width="2.5" height="99.0" fill="url(#g147)" opacity="0.15"/>
<rect x="1099.0" y="429.2" width="2.0" height="97.8" fill="url(#g189)" opacity="0.11"/>
<rect x="1105.5" y="426.4" width="2.5" height="100.6" fill="url(#g174)" opacity="0.11"/>
<rect x="1115.0" y="431.0" width="2.5" height="96.0" fill="url(#g159)" opacity="0.08"/>
</g>
</g></g>
<rect x="911.0" y="524.8" width="209.0" height="11.6" fill="#dae319" opacity="0.5"/>
<rect x="911.0" y="526.1" width="209.0" height="1.1" fill="#b0dd2f" opacity="0.55"/>
<rect x="911.0" y="528.9" width="209.0" height="1.1" fill="#b0dd2f" opacity="0.55"/>
<rect x="911.0" y="532.4" width="209.0" height="1.1" fill="#b0dd2f" opacity="0.55"/>
<rect x="911.0" y="520.0" width="209.0" height="1.0" fill="#d2e21b" opacity="0.3"/>
<rect x="911.0" y="522.7" width="209.0" height="1.0" fill="#d2e21b" opacity="0.3"/>
<rect x="910.0" y="323.5" width="1.0" height="214.0" fill="#22a884"/>
<rect x="1120.0" y="323.5" width="1.0" height="214.0" fill="#1e9c89"/>
</g>
<g stroke="#000" stroke-width="1" fill="none" shape-rendering="crispEdges">
<rect x="69.5" y="30.5" width="1111.0" height="214.0"/>
<line x1="69.5" y1="244.5" x2="69.5" y2="249.9"/>
<line x1="291.5" y1="244.5" x2="291.5" y2="249.9"/>
<line x1="514.5" y1="244.5" x2="514.5" y2="249.9"/>
<line x1="736.5" y1="244.5" x2="736.5" y2="249.9"/>
<line x1="958.5" y1="244.5" x2="958.5" y2="249.9"/>
<rect x="69.5" y="323.5" width="1111.0" height="214.0"/>
<line x1="69.5" y1="537.5" x2="69.5" y2="542.9"/>
<line x1="291.5" y1="537.5" x2="291.5" y2="542.9"/>
<line x1="514.5" y1="537.5" x2="514.5" y2="542.9"/>
<line x1="736.5" y1="537.5" x2="736.5" y2="542.9"/>
<line x1="958.5" y1="537.5" x2="958.5" y2="542.9"/>
<line x1="64.1" y1="56.5" x2="69.5" y2="56.5"/>
<line x1="64.1" y1="94.5" x2="69.5" y2="94.5"/>
<line x1="64.1" y1="132.5" x2="69.5" y2="132.5"/>
<line x1="64.1" y1="170.5" x2="69.5" y2="170.5"/>
<line x1="64.1" y1="208.5" x2="69.5" y2="208.5"/>
<line x1="64.1" y1="537.5" x2="69.5" y2="537.5"/>
<line x1="64.1" y1="483.5" x2="69.5" y2="483.5"/>
<line x1="64.1" y1="430.5" x2="69.5" y2="430.5"/>
<line x1="64.1" y1="376.5" x2="69.5" y2="376.5"/>
<line x1="64.1" y1="323.5" x2="69.5" y2="323.5"/>
</g>
<g font-size="13.89px">
<text x="69.5" y="265.1" text-anchor="middle">0</text>
<text x="291.5" y="265.1" text-anchor="middle">2</text>
<text x="514.5" y="265.1" text-anchor="middle">4</text>
<text x="736.5" y="265.1" text-anchor="middle">6</text>
<text x="958.5" y="265.1" text-anchor="middle">8</text>
<text x="624.3" y="284.7" text-anchor="middle">Time (s)</text>
<text x="69.5" y="557.1" text-anchor="middle">0</text>
<text x="291.5" y="557.1" text-anchor="middle">2</text>
<text x="514.5" y="557.1" text-anchor="middle">4</text>
<text x="736.5" y="557.1" text-anchor="middle">6</text>
<text x="958.5" y="557.1" text-anchor="middle">8</text>
<text x="624.3" y="576.7" text-anchor="middle">Time (s)</text>
<text x="58.80" y="62.3" text-anchor="end">10</text>
<text x="58.80" y="100.3" text-anchor="end">5</text>
<text x="59.65" y="138.3" text-anchor="end">0</text>
<text x="58.80" y="175.2" text-anchor="end">−5</text>
<text x="58.80" y="213.2" text-anchor="end">−10</text>
<text x="59.90" y="542.3" text-anchor="end">0</text>
<text x="58.80" y="489.3" text-anchor="end">2</text>
<text x="59.80" y="435.3" text-anchor="end">4</text>
<text x="58.80" y="382.3" text-anchor="end">6</text>
<text x="58.80" y="328.3" text-anchor="end">8</text>
<text transform="translate(20.4,137.5) rotate(-90)" text-anchor="middle">Amplitude</text>
<text transform="translate(40.2,430.5) rotate(-90)" text-anchor="middle">Frequency (kHz)</text>
</g>
<g font-size="16.67px" text-anchor="middle" letter-spacing="0.04">
<text x="623.8" y="22.1">Noise gate with hysteresis</text>
<text x="623.8" y="315.1">Spectrogram of gating with hysteresis</text>
</g>
<rect x="1028.3" y="191.3" width="145.3" height="46.2" rx="2.8" ry="2.8" fill="#fff" fill-opacity="0.8" stroke="#ccc" stroke-opacity="0.9" stroke-width="1.2"/>
<g stroke-width="2.08" stroke-linecap="butt"><line x1="1031.9" y1="202.9" x2="1062.0" y2="202.9" stroke="#1f77b4"/><line x1="1031.9" y1="224.0" x2="1062.0" y2="224.0" stroke="#ff7f0e"/></g>
<g font-size="13.89px"><text x="1072.1" y="207.5">Signal energy</text><text x="1072.1" y="228.9">Noise gate</text></g>
</svg>
</body></html>
